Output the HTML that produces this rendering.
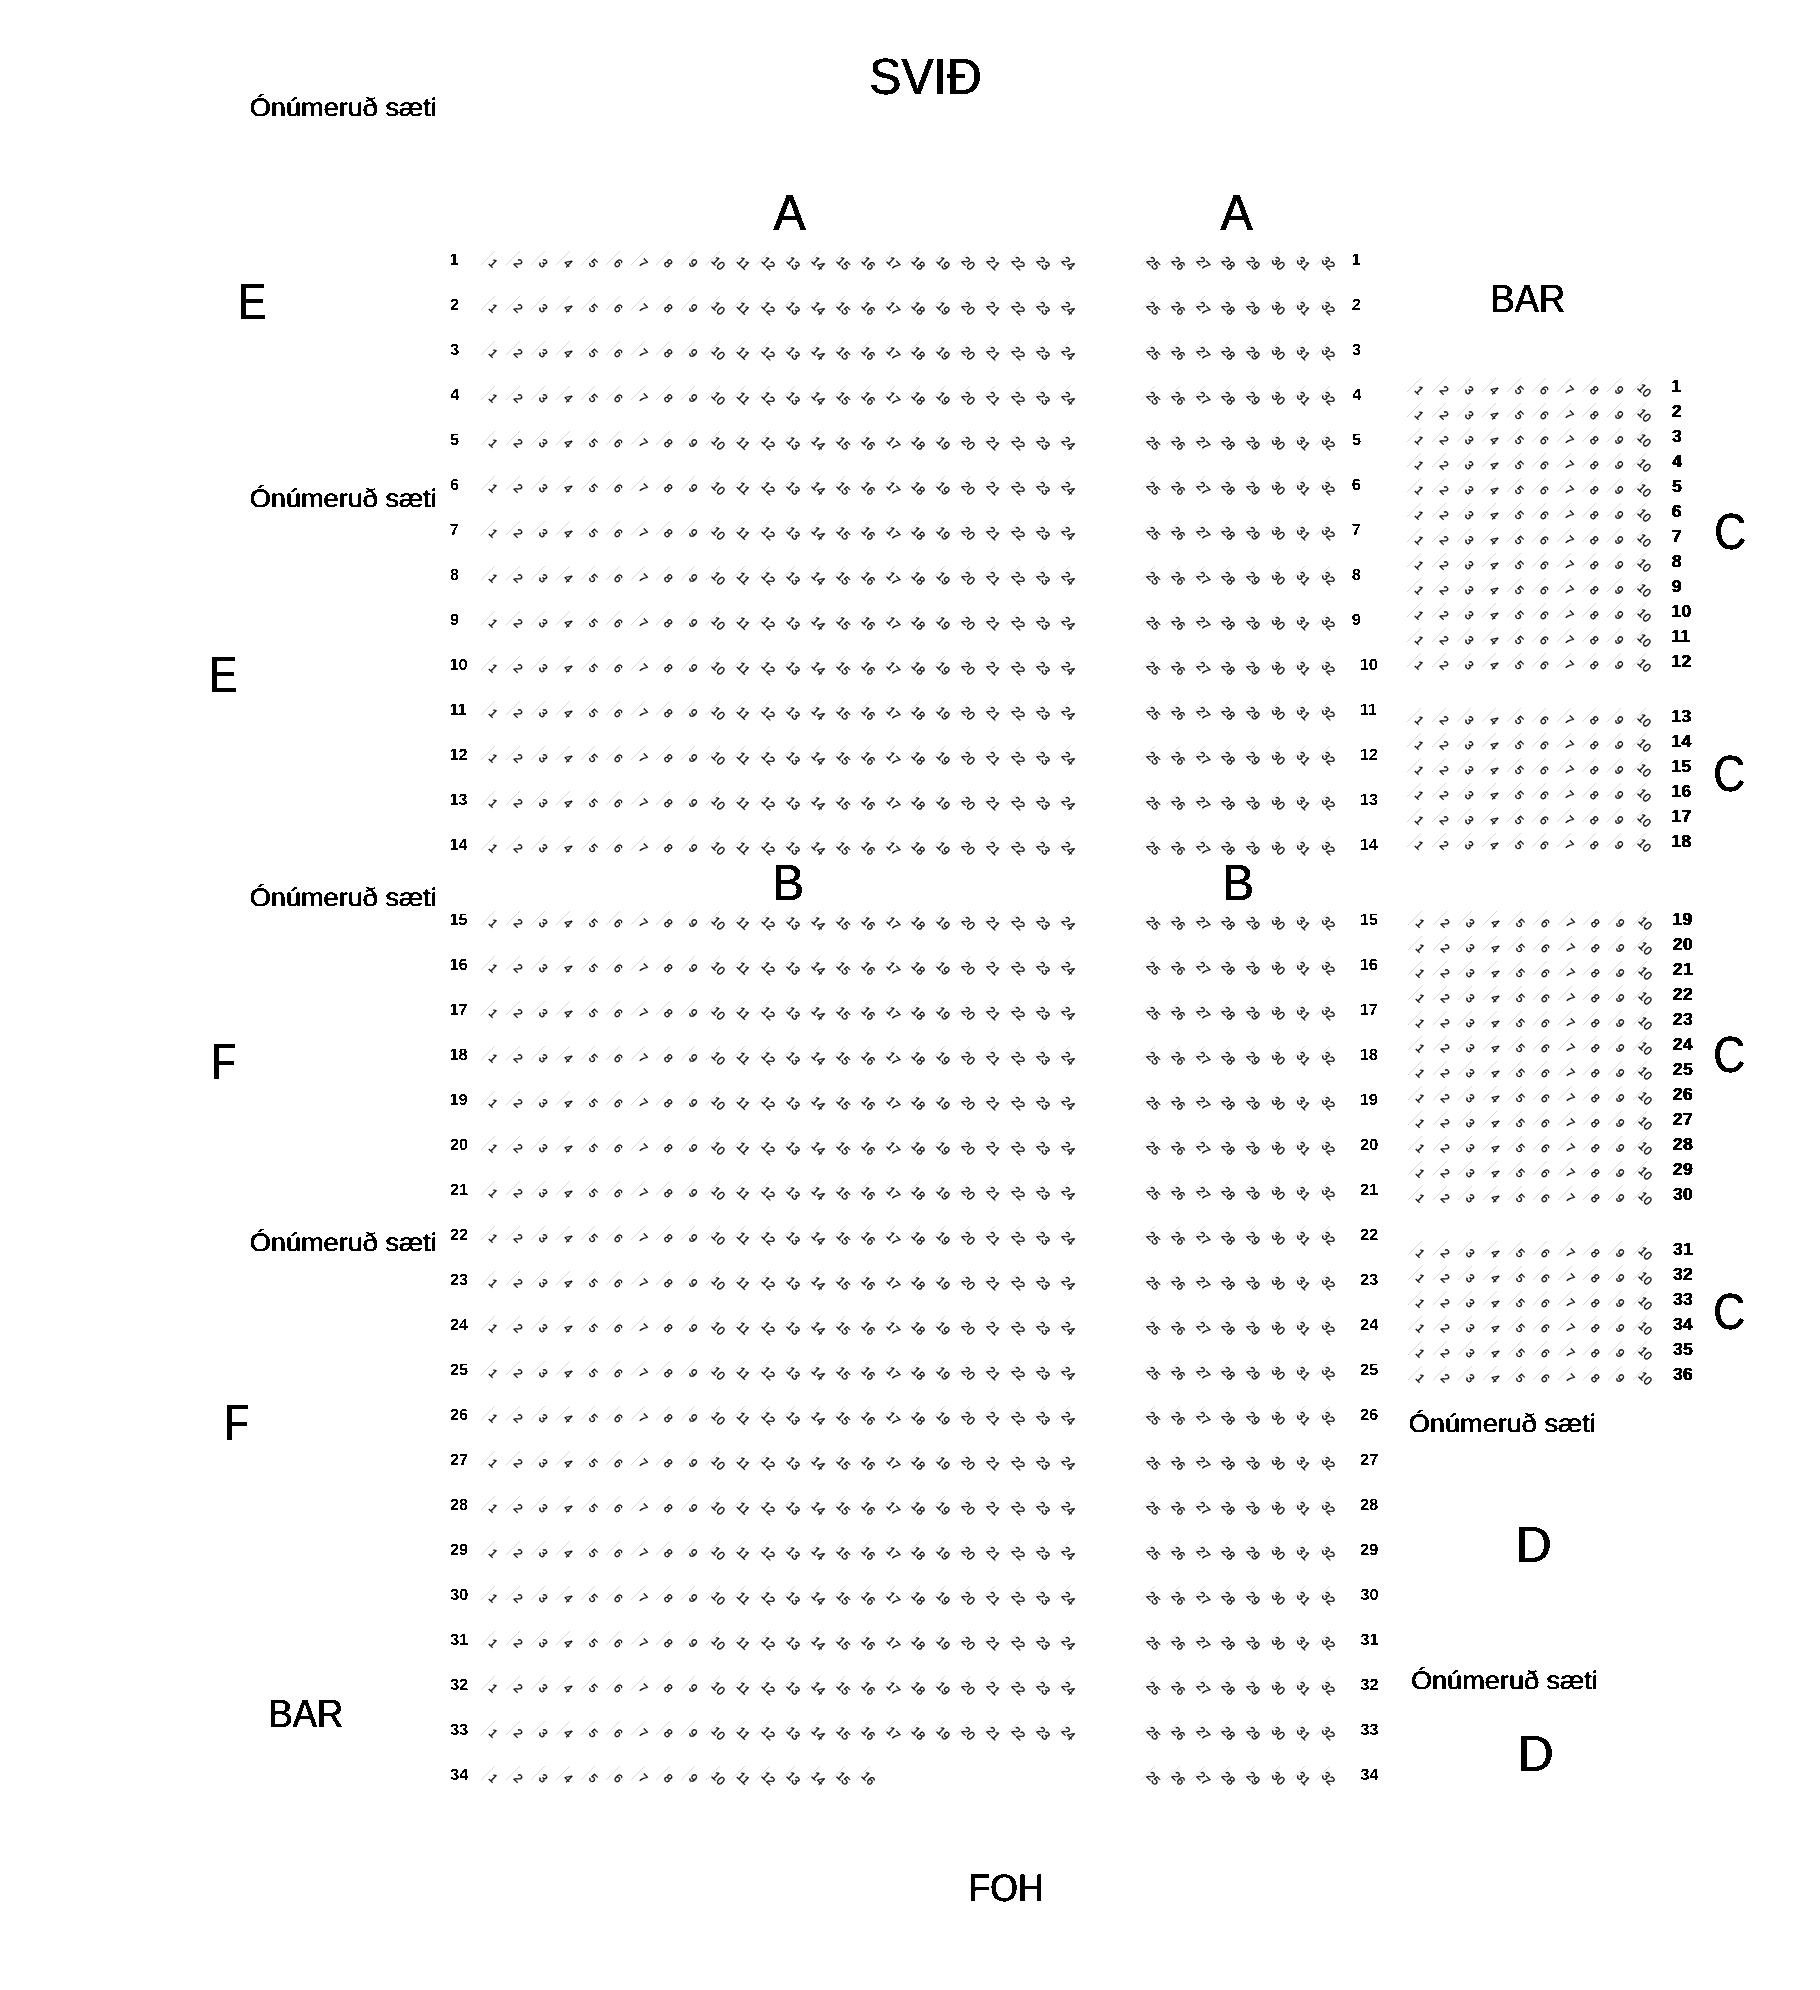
<!DOCTYPE html>
<html lang="is"><head><meta charset="utf-8"><title>Sætaskipan</title>
<style>
html,body{margin:0;padding:0;background:#fff;}
body{width:1820px;height:1990px;position:relative;font-family:"Liberation Sans",sans-serif;}
svg{display:block;position:absolute;left:0;top:0;text-rendering:geometricPrecision;}
text{font-family:"Liberation Sans",sans-serif;fill:#000;}
.t{font-weight:400;}
.r{font-weight:700;font-size:16.3px;}
.c{font-size:17.45px;letter-spacing:0.4px;}
.s text{font-size:12.0px;fill:#0d0d0d;stroke:#0d0d0d;stroke-width:0.35px;text-anchor:middle;}
.s{filter:blur(0.25px);}
.ln{stroke:#c6c6c6;stroke-width:0.7;fill:none;}
</style></head><body>
<svg width="1820" height="1990" viewBox="0 0 1820 1990">
<defs>
<filter id="hb" filterUnits="userSpaceOnUse" x="0" y="0" width="1820" height="1990" color-interpolation-filters="sRGB">
<feOffset in="SourceGraphic" dx="1" dy="0" result="o"/>
<feMerge result="m"><feMergeNode in="o"/><feMergeNode in="SourceGraphic"/></feMerge>
<feComponentTransfer in="m"><feFuncA type="discrete" tableValues="0 1"/></feComponentTransfer>
</filter>
<filter id="th" filterUnits="userSpaceOnUse" x="0" y="0" width="1820" height="1990" color-interpolation-filters="sRGB">
<feComponentTransfer><feFuncA type="discrete" tableValues="0 1"/></feComponentTransfer>
</filter>
</defs>
<g id="labels" filter="url(#hb)">
<text class="t" transform="translate(868.83 94.19) scale(0.9439 1)" font-size="51.02">SVIÐ</text>
<text class="t" transform="translate(249.21 116.15) scale(1.0671 1)" font-size="25.44">Ónúmeruð sæti</text>
<text class="t" transform="translate(249.21 507.05) scale(1.0665 1)" font-size="25.44">Ónúmeruð sæti</text>
<text class="t" transform="translate(249.21 906.35) scale(1.0665 1)" font-size="25.44">Ónúmeruð sæti</text>
<text class="t" transform="translate(249.21 1250.55) scale(1.0665 1)" font-size="25.44">Ónúmeruð sæti</text>
<text class="t" transform="translate(1408.21 1432.25) scale(1.0671 1)" font-size="25.44">Ónúmeruð sæti</text>
<text class="t" transform="translate(1410.46 1689.35) scale(1.0656 1)" font-size="25.44">Ónúmeruð sæti</text>
<text class="t" transform="translate(772.88 230.00) scale(0.9488 1)" font-size="50.91">A</text>
<text class="t" transform="translate(1219.88 230.00) scale(0.9488 1)" font-size="50.91">A</text>
<text class="t" transform="translate(772.10 899.80) scale(0.9349 1)" font-size="50.62">B</text>
<text class="t" transform="translate(1222.10 899.80) scale(0.9349 1)" font-size="50.62">B</text>
<text class="t" transform="translate(237.50 319.00) scale(0.8328 1)" font-size="50.91">E</text>
<text class="t" transform="translate(208.50 692.00) scale(0.8328 1)" font-size="50.91">E</text>
<text class="t" transform="translate(210.62 1079.00) scale(0.8059 1)" font-size="50.91">F</text>
<text class="t" transform="translate(223.62 1440.00) scale(0.8059 1)" font-size="50.91">F</text>
<text class="t" transform="translate(1713.79 549.19) scale(0.8676 1)" font-size="51.02">C</text>
<text class="t" transform="translate(1712.79 791.19) scale(0.8676 1)" font-size="51.02">C</text>
<text class="t" transform="translate(1712.79 1072.19) scale(0.8676 1)" font-size="51.02">C</text>
<text class="t" transform="translate(1712.79 1329.19) scale(0.8676 1)" font-size="51.02">C</text>
<text class="t" transform="translate(1514.82 1562.00) scale(0.9946 1)" font-size="50.91">D</text>
<text class="t" transform="translate(1516.82 1771.00) scale(0.9946 1)" font-size="50.91">D</text>
<text class="t" transform="translate(1490.00 312.00) scale(0.9247 1)" font-size="39.27">BAR</text>
<text class="t" transform="translate(268.00 1727.00) scale(0.9247 1)" font-size="39.27">BAR</text>
<text class="t" transform="translate(968.06 1900.82) scale(0.9254 1)" font-size="38.45">FOH</text>
</g>
<g id="seats" class="s">
<g id="ab1">
<text transform="translate(493.4 263.2) rotate(45)" y="4.13">1</text>
<text transform="translate(518.4 263.2) rotate(45)" y="4.13">2</text>
<text transform="translate(543.4 263.2) rotate(45)" y="4.13">3</text>
<text transform="translate(568.4 263.2) rotate(45)" y="4.13">4</text>
<text transform="translate(593.4 263.2) rotate(45)" y="4.13">5</text>
<text transform="translate(618.4 263.2) rotate(45)" y="4.13">6</text>
<text transform="translate(643.4 263.2) rotate(45)" y="4.13">7</text>
<text transform="translate(668.4 263.2) rotate(45)" y="4.13">8</text>
<text transform="translate(693.4 263.2) rotate(45)" y="4.13">9</text>
<text transform="translate(718.4 263.2) rotate(45)" y="4.13">10</text>
<text transform="translate(743.4 263.2) rotate(45)" y="4.13">11</text>
<text transform="translate(768.4 263.2) rotate(45)" y="4.13">12</text>
<text transform="translate(793.4 263.2) rotate(45)" y="4.13">13</text>
<text transform="translate(818.4 263.2) rotate(45)" y="4.13">14</text>
<text transform="translate(843.4 263.2) rotate(45)" y="4.13">15</text>
<text transform="translate(868.4 263.2) rotate(45)" y="4.13">16</text>
<text transform="translate(893.4 263.2) rotate(45)" y="4.13">17</text>
<text transform="translate(918.4 263.2) rotate(45)" y="4.13">18</text>
<text transform="translate(943.4 263.2) rotate(45)" y="4.13">19</text>
<text transform="translate(968.4 263.2) rotate(45)" y="4.13">20</text>
<text transform="translate(993.4 263.2) rotate(45)" y="4.13">21</text>
<text transform="translate(1018.4 263.2) rotate(45)" y="4.13">22</text>
<text transform="translate(1043.4 263.2) rotate(45)" y="4.13">23</text>
<text transform="translate(1068.4 263.2) rotate(45)" y="4.13">24</text>
<text transform="translate(1153.4 263.2) rotate(45)" y="4.13">25</text>
<text transform="translate(1178.4 263.2) rotate(45)" y="4.13">26</text>
<text transform="translate(1203.4 263.2) rotate(45)" y="4.13">27</text>
<text transform="translate(1228.4 263.2) rotate(45)" y="4.13">28</text>
<text transform="translate(1253.4 263.2) rotate(45)" y="4.13">29</text>
<text transform="translate(1278.4 263.2) rotate(45)" y="4.13">30</text>
<text transform="translate(1303.4 263.2) rotate(45)" y="4.13">31</text>
<text transform="translate(1328.4 263.2) rotate(45)" y="4.13">32</text>
</g>
<g id="ab2">
<text transform="translate(493.4 308.2) rotate(45)" y="4.13">1</text>
<text transform="translate(518.4 308.2) rotate(45)" y="4.13">2</text>
<text transform="translate(543.4 308.2) rotate(45)" y="4.13">3</text>
<text transform="translate(568.4 308.2) rotate(45)" y="4.13">4</text>
<text transform="translate(593.4 308.2) rotate(45)" y="4.13">5</text>
<text transform="translate(618.4 308.2) rotate(45)" y="4.13">6</text>
<text transform="translate(643.4 308.2) rotate(45)" y="4.13">7</text>
<text transform="translate(668.4 308.2) rotate(45)" y="4.13">8</text>
<text transform="translate(693.4 308.2) rotate(45)" y="4.13">9</text>
<text transform="translate(718.4 308.2) rotate(45)" y="4.13">10</text>
<text transform="translate(743.4 308.2) rotate(45)" y="4.13">11</text>
<text transform="translate(768.4 308.2) rotate(45)" y="4.13">12</text>
<text transform="translate(793.4 308.2) rotate(45)" y="4.13">13</text>
<text transform="translate(818.4 308.2) rotate(45)" y="4.13">14</text>
<text transform="translate(843.4 308.2) rotate(45)" y="4.13">15</text>
<text transform="translate(868.4 308.2) rotate(45)" y="4.13">16</text>
<text transform="translate(893.4 308.2) rotate(45)" y="4.13">17</text>
<text transform="translate(918.4 308.2) rotate(45)" y="4.13">18</text>
<text transform="translate(943.4 308.2) rotate(45)" y="4.13">19</text>
<text transform="translate(968.4 308.2) rotate(45)" y="4.13">20</text>
<text transform="translate(993.4 308.2) rotate(45)" y="4.13">21</text>
<text transform="translate(1018.4 308.2) rotate(45)" y="4.13">22</text>
<text transform="translate(1043.4 308.2) rotate(45)" y="4.13">23</text>
<text transform="translate(1068.4 308.2) rotate(45)" y="4.13">24</text>
<text transform="translate(1153.4 308.2) rotate(45)" y="4.13">25</text>
<text transform="translate(1178.4 308.2) rotate(45)" y="4.13">26</text>
<text transform="translate(1203.4 308.2) rotate(45)" y="4.13">27</text>
<text transform="translate(1228.4 308.2) rotate(45)" y="4.13">28</text>
<text transform="translate(1253.4 308.2) rotate(45)" y="4.13">29</text>
<text transform="translate(1278.4 308.2) rotate(45)" y="4.13">30</text>
<text transform="translate(1303.4 308.2) rotate(45)" y="4.13">31</text>
<text transform="translate(1328.4 308.2) rotate(45)" y="4.13">32</text>
</g>
<g id="ab3">
<text transform="translate(493.4 353.2) rotate(45)" y="4.13">1</text>
<text transform="translate(518.4 353.2) rotate(45)" y="4.13">2</text>
<text transform="translate(543.4 353.2) rotate(45)" y="4.13">3</text>
<text transform="translate(568.4 353.2) rotate(45)" y="4.13">4</text>
<text transform="translate(593.4 353.2) rotate(45)" y="4.13">5</text>
<text transform="translate(618.4 353.2) rotate(45)" y="4.13">6</text>
<text transform="translate(643.4 353.2) rotate(45)" y="4.13">7</text>
<text transform="translate(668.4 353.2) rotate(45)" y="4.13">8</text>
<text transform="translate(693.4 353.2) rotate(45)" y="4.13">9</text>
<text transform="translate(718.4 353.2) rotate(45)" y="4.13">10</text>
<text transform="translate(743.4 353.2) rotate(45)" y="4.13">11</text>
<text transform="translate(768.4 353.2) rotate(45)" y="4.13">12</text>
<text transform="translate(793.4 353.2) rotate(45)" y="4.13">13</text>
<text transform="translate(818.4 353.2) rotate(45)" y="4.13">14</text>
<text transform="translate(843.4 353.2) rotate(45)" y="4.13">15</text>
<text transform="translate(868.4 353.2) rotate(45)" y="4.13">16</text>
<text transform="translate(893.4 353.2) rotate(45)" y="4.13">17</text>
<text transform="translate(918.4 353.2) rotate(45)" y="4.13">18</text>
<text transform="translate(943.4 353.2) rotate(45)" y="4.13">19</text>
<text transform="translate(968.4 353.2) rotate(45)" y="4.13">20</text>
<text transform="translate(993.4 353.2) rotate(45)" y="4.13">21</text>
<text transform="translate(1018.4 353.2) rotate(45)" y="4.13">22</text>
<text transform="translate(1043.4 353.2) rotate(45)" y="4.13">23</text>
<text transform="translate(1068.4 353.2) rotate(45)" y="4.13">24</text>
<text transform="translate(1153.4 353.2) rotate(45)" y="4.13">25</text>
<text transform="translate(1178.4 353.2) rotate(45)" y="4.13">26</text>
<text transform="translate(1203.4 353.2) rotate(45)" y="4.13">27</text>
<text transform="translate(1228.4 353.2) rotate(45)" y="4.13">28</text>
<text transform="translate(1253.4 353.2) rotate(45)" y="4.13">29</text>
<text transform="translate(1278.4 353.2) rotate(45)" y="4.13">30</text>
<text transform="translate(1303.4 353.2) rotate(45)" y="4.13">31</text>
<text transform="translate(1328.4 353.2) rotate(45)" y="4.13">32</text>
</g>
<g id="ab4">
<text transform="translate(493.4 398.2) rotate(45)" y="4.13">1</text>
<text transform="translate(518.4 398.2) rotate(45)" y="4.13">2</text>
<text transform="translate(543.4 398.2) rotate(45)" y="4.13">3</text>
<text transform="translate(568.4 398.2) rotate(45)" y="4.13">4</text>
<text transform="translate(593.4 398.2) rotate(45)" y="4.13">5</text>
<text transform="translate(618.4 398.2) rotate(45)" y="4.13">6</text>
<text transform="translate(643.4 398.2) rotate(45)" y="4.13">7</text>
<text transform="translate(668.4 398.2) rotate(45)" y="4.13">8</text>
<text transform="translate(693.4 398.2) rotate(45)" y="4.13">9</text>
<text transform="translate(718.4 398.2) rotate(45)" y="4.13">10</text>
<text transform="translate(743.4 398.2) rotate(45)" y="4.13">11</text>
<text transform="translate(768.4 398.2) rotate(45)" y="4.13">12</text>
<text transform="translate(793.4 398.2) rotate(45)" y="4.13">13</text>
<text transform="translate(818.4 398.2) rotate(45)" y="4.13">14</text>
<text transform="translate(843.4 398.2) rotate(45)" y="4.13">15</text>
<text transform="translate(868.4 398.2) rotate(45)" y="4.13">16</text>
<text transform="translate(893.4 398.2) rotate(45)" y="4.13">17</text>
<text transform="translate(918.4 398.2) rotate(45)" y="4.13">18</text>
<text transform="translate(943.4 398.2) rotate(45)" y="4.13">19</text>
<text transform="translate(968.4 398.2) rotate(45)" y="4.13">20</text>
<text transform="translate(993.4 398.2) rotate(45)" y="4.13">21</text>
<text transform="translate(1018.4 398.2) rotate(45)" y="4.13">22</text>
<text transform="translate(1043.4 398.2) rotate(45)" y="4.13">23</text>
<text transform="translate(1068.4 398.2) rotate(45)" y="4.13">24</text>
<text transform="translate(1153.4 398.2) rotate(45)" y="4.13">25</text>
<text transform="translate(1178.4 398.2) rotate(45)" y="4.13">26</text>
<text transform="translate(1203.4 398.2) rotate(45)" y="4.13">27</text>
<text transform="translate(1228.4 398.2) rotate(45)" y="4.13">28</text>
<text transform="translate(1253.4 398.2) rotate(45)" y="4.13">29</text>
<text transform="translate(1278.4 398.2) rotate(45)" y="4.13">30</text>
<text transform="translate(1303.4 398.2) rotate(45)" y="4.13">31</text>
<text transform="translate(1328.4 398.2) rotate(45)" y="4.13">32</text>
</g>
<g id="ab5">
<text transform="translate(493.4 443.2) rotate(45)" y="4.13">1</text>
<text transform="translate(518.4 443.2) rotate(45)" y="4.13">2</text>
<text transform="translate(543.4 443.2) rotate(45)" y="4.13">3</text>
<text transform="translate(568.4 443.2) rotate(45)" y="4.13">4</text>
<text transform="translate(593.4 443.2) rotate(45)" y="4.13">5</text>
<text transform="translate(618.4 443.2) rotate(45)" y="4.13">6</text>
<text transform="translate(643.4 443.2) rotate(45)" y="4.13">7</text>
<text transform="translate(668.4 443.2) rotate(45)" y="4.13">8</text>
<text transform="translate(693.4 443.2) rotate(45)" y="4.13">9</text>
<text transform="translate(718.4 443.2) rotate(45)" y="4.13">10</text>
<text transform="translate(743.4 443.2) rotate(45)" y="4.13">11</text>
<text transform="translate(768.4 443.2) rotate(45)" y="4.13">12</text>
<text transform="translate(793.4 443.2) rotate(45)" y="4.13">13</text>
<text transform="translate(818.4 443.2) rotate(45)" y="4.13">14</text>
<text transform="translate(843.4 443.2) rotate(45)" y="4.13">15</text>
<text transform="translate(868.4 443.2) rotate(45)" y="4.13">16</text>
<text transform="translate(893.4 443.2) rotate(45)" y="4.13">17</text>
<text transform="translate(918.4 443.2) rotate(45)" y="4.13">18</text>
<text transform="translate(943.4 443.2) rotate(45)" y="4.13">19</text>
<text transform="translate(968.4 443.2) rotate(45)" y="4.13">20</text>
<text transform="translate(993.4 443.2) rotate(45)" y="4.13">21</text>
<text transform="translate(1018.4 443.2) rotate(45)" y="4.13">22</text>
<text transform="translate(1043.4 443.2) rotate(45)" y="4.13">23</text>
<text transform="translate(1068.4 443.2) rotate(45)" y="4.13">24</text>
<text transform="translate(1153.4 443.2) rotate(45)" y="4.13">25</text>
<text transform="translate(1178.4 443.2) rotate(45)" y="4.13">26</text>
<text transform="translate(1203.4 443.2) rotate(45)" y="4.13">27</text>
<text transform="translate(1228.4 443.2) rotate(45)" y="4.13">28</text>
<text transform="translate(1253.4 443.2) rotate(45)" y="4.13">29</text>
<text transform="translate(1278.4 443.2) rotate(45)" y="4.13">30</text>
<text transform="translate(1303.4 443.2) rotate(45)" y="4.13">31</text>
<text transform="translate(1328.4 443.2) rotate(45)" y="4.13">32</text>
</g>
<g id="ab6">
<text transform="translate(493.4 488.2) rotate(45)" y="4.13">1</text>
<text transform="translate(518.4 488.2) rotate(45)" y="4.13">2</text>
<text transform="translate(543.4 488.2) rotate(45)" y="4.13">3</text>
<text transform="translate(568.4 488.2) rotate(45)" y="4.13">4</text>
<text transform="translate(593.4 488.2) rotate(45)" y="4.13">5</text>
<text transform="translate(618.4 488.2) rotate(45)" y="4.13">6</text>
<text transform="translate(643.4 488.2) rotate(45)" y="4.13">7</text>
<text transform="translate(668.4 488.2) rotate(45)" y="4.13">8</text>
<text transform="translate(693.4 488.2) rotate(45)" y="4.13">9</text>
<text transform="translate(718.4 488.2) rotate(45)" y="4.13">10</text>
<text transform="translate(743.4 488.2) rotate(45)" y="4.13">11</text>
<text transform="translate(768.4 488.2) rotate(45)" y="4.13">12</text>
<text transform="translate(793.4 488.2) rotate(45)" y="4.13">13</text>
<text transform="translate(818.4 488.2) rotate(45)" y="4.13">14</text>
<text transform="translate(843.4 488.2) rotate(45)" y="4.13">15</text>
<text transform="translate(868.4 488.2) rotate(45)" y="4.13">16</text>
<text transform="translate(893.4 488.2) rotate(45)" y="4.13">17</text>
<text transform="translate(918.4 488.2) rotate(45)" y="4.13">18</text>
<text transform="translate(943.4 488.2) rotate(45)" y="4.13">19</text>
<text transform="translate(968.4 488.2) rotate(45)" y="4.13">20</text>
<text transform="translate(993.4 488.2) rotate(45)" y="4.13">21</text>
<text transform="translate(1018.4 488.2) rotate(45)" y="4.13">22</text>
<text transform="translate(1043.4 488.2) rotate(45)" y="4.13">23</text>
<text transform="translate(1068.4 488.2) rotate(45)" y="4.13">24</text>
<text transform="translate(1153.4 488.2) rotate(45)" y="4.13">25</text>
<text transform="translate(1178.4 488.2) rotate(45)" y="4.13">26</text>
<text transform="translate(1203.4 488.2) rotate(45)" y="4.13">27</text>
<text transform="translate(1228.4 488.2) rotate(45)" y="4.13">28</text>
<text transform="translate(1253.4 488.2) rotate(45)" y="4.13">29</text>
<text transform="translate(1278.4 488.2) rotate(45)" y="4.13">30</text>
<text transform="translate(1303.4 488.2) rotate(45)" y="4.13">31</text>
<text transform="translate(1328.4 488.2) rotate(45)" y="4.13">32</text>
</g>
<g id="ab7">
<text transform="translate(493.4 533.2) rotate(45)" y="4.13">1</text>
<text transform="translate(518.4 533.2) rotate(45)" y="4.13">2</text>
<text transform="translate(543.4 533.2) rotate(45)" y="4.13">3</text>
<text transform="translate(568.4 533.2) rotate(45)" y="4.13">4</text>
<text transform="translate(593.4 533.2) rotate(45)" y="4.13">5</text>
<text transform="translate(618.4 533.2) rotate(45)" y="4.13">6</text>
<text transform="translate(643.4 533.2) rotate(45)" y="4.13">7</text>
<text transform="translate(668.4 533.2) rotate(45)" y="4.13">8</text>
<text transform="translate(693.4 533.2) rotate(45)" y="4.13">9</text>
<text transform="translate(718.4 533.2) rotate(45)" y="4.13">10</text>
<text transform="translate(743.4 533.2) rotate(45)" y="4.13">11</text>
<text transform="translate(768.4 533.2) rotate(45)" y="4.13">12</text>
<text transform="translate(793.4 533.2) rotate(45)" y="4.13">13</text>
<text transform="translate(818.4 533.2) rotate(45)" y="4.13">14</text>
<text transform="translate(843.4 533.2) rotate(45)" y="4.13">15</text>
<text transform="translate(868.4 533.2) rotate(45)" y="4.13">16</text>
<text transform="translate(893.4 533.2) rotate(45)" y="4.13">17</text>
<text transform="translate(918.4 533.2) rotate(45)" y="4.13">18</text>
<text transform="translate(943.4 533.2) rotate(45)" y="4.13">19</text>
<text transform="translate(968.4 533.2) rotate(45)" y="4.13">20</text>
<text transform="translate(993.4 533.2) rotate(45)" y="4.13">21</text>
<text transform="translate(1018.4 533.2) rotate(45)" y="4.13">22</text>
<text transform="translate(1043.4 533.2) rotate(45)" y="4.13">23</text>
<text transform="translate(1068.4 533.2) rotate(45)" y="4.13">24</text>
<text transform="translate(1153.4 533.2) rotate(45)" y="4.13">25</text>
<text transform="translate(1178.4 533.2) rotate(45)" y="4.13">26</text>
<text transform="translate(1203.4 533.2) rotate(45)" y="4.13">27</text>
<text transform="translate(1228.4 533.2) rotate(45)" y="4.13">28</text>
<text transform="translate(1253.4 533.2) rotate(45)" y="4.13">29</text>
<text transform="translate(1278.4 533.2) rotate(45)" y="4.13">30</text>
<text transform="translate(1303.4 533.2) rotate(45)" y="4.13">31</text>
<text transform="translate(1328.4 533.2) rotate(45)" y="4.13">32</text>
</g>
<g id="ab8">
<text transform="translate(493.4 578.2) rotate(45)" y="4.13">1</text>
<text transform="translate(518.4 578.2) rotate(45)" y="4.13">2</text>
<text transform="translate(543.4 578.2) rotate(45)" y="4.13">3</text>
<text transform="translate(568.4 578.2) rotate(45)" y="4.13">4</text>
<text transform="translate(593.4 578.2) rotate(45)" y="4.13">5</text>
<text transform="translate(618.4 578.2) rotate(45)" y="4.13">6</text>
<text transform="translate(643.4 578.2) rotate(45)" y="4.13">7</text>
<text transform="translate(668.4 578.2) rotate(45)" y="4.13">8</text>
<text transform="translate(693.4 578.2) rotate(45)" y="4.13">9</text>
<text transform="translate(718.4 578.2) rotate(45)" y="4.13">10</text>
<text transform="translate(743.4 578.2) rotate(45)" y="4.13">11</text>
<text transform="translate(768.4 578.2) rotate(45)" y="4.13">12</text>
<text transform="translate(793.4 578.2) rotate(45)" y="4.13">13</text>
<text transform="translate(818.4 578.2) rotate(45)" y="4.13">14</text>
<text transform="translate(843.4 578.2) rotate(45)" y="4.13">15</text>
<text transform="translate(868.4 578.2) rotate(45)" y="4.13">16</text>
<text transform="translate(893.4 578.2) rotate(45)" y="4.13">17</text>
<text transform="translate(918.4 578.2) rotate(45)" y="4.13">18</text>
<text transform="translate(943.4 578.2) rotate(45)" y="4.13">19</text>
<text transform="translate(968.4 578.2) rotate(45)" y="4.13">20</text>
<text transform="translate(993.4 578.2) rotate(45)" y="4.13">21</text>
<text transform="translate(1018.4 578.2) rotate(45)" y="4.13">22</text>
<text transform="translate(1043.4 578.2) rotate(45)" y="4.13">23</text>
<text transform="translate(1068.4 578.2) rotate(45)" y="4.13">24</text>
<text transform="translate(1153.4 578.2) rotate(45)" y="4.13">25</text>
<text transform="translate(1178.4 578.2) rotate(45)" y="4.13">26</text>
<text transform="translate(1203.4 578.2) rotate(45)" y="4.13">27</text>
<text transform="translate(1228.4 578.2) rotate(45)" y="4.13">28</text>
<text transform="translate(1253.4 578.2) rotate(45)" y="4.13">29</text>
<text transform="translate(1278.4 578.2) rotate(45)" y="4.13">30</text>
<text transform="translate(1303.4 578.2) rotate(45)" y="4.13">31</text>
<text transform="translate(1328.4 578.2) rotate(45)" y="4.13">32</text>
</g>
<g id="ab9">
<text transform="translate(493.4 623.2) rotate(45)" y="4.13">1</text>
<text transform="translate(518.4 623.2) rotate(45)" y="4.13">2</text>
<text transform="translate(543.4 623.2) rotate(45)" y="4.13">3</text>
<text transform="translate(568.4 623.2) rotate(45)" y="4.13">4</text>
<text transform="translate(593.4 623.2) rotate(45)" y="4.13">5</text>
<text transform="translate(618.4 623.2) rotate(45)" y="4.13">6</text>
<text transform="translate(643.4 623.2) rotate(45)" y="4.13">7</text>
<text transform="translate(668.4 623.2) rotate(45)" y="4.13">8</text>
<text transform="translate(693.4 623.2) rotate(45)" y="4.13">9</text>
<text transform="translate(718.4 623.2) rotate(45)" y="4.13">10</text>
<text transform="translate(743.4 623.2) rotate(45)" y="4.13">11</text>
<text transform="translate(768.4 623.2) rotate(45)" y="4.13">12</text>
<text transform="translate(793.4 623.2) rotate(45)" y="4.13">13</text>
<text transform="translate(818.4 623.2) rotate(45)" y="4.13">14</text>
<text transform="translate(843.4 623.2) rotate(45)" y="4.13">15</text>
<text transform="translate(868.4 623.2) rotate(45)" y="4.13">16</text>
<text transform="translate(893.4 623.2) rotate(45)" y="4.13">17</text>
<text transform="translate(918.4 623.2) rotate(45)" y="4.13">18</text>
<text transform="translate(943.4 623.2) rotate(45)" y="4.13">19</text>
<text transform="translate(968.4 623.2) rotate(45)" y="4.13">20</text>
<text transform="translate(993.4 623.2) rotate(45)" y="4.13">21</text>
<text transform="translate(1018.4 623.2) rotate(45)" y="4.13">22</text>
<text transform="translate(1043.4 623.2) rotate(45)" y="4.13">23</text>
<text transform="translate(1068.4 623.2) rotate(45)" y="4.13">24</text>
<text transform="translate(1153.4 623.2) rotate(45)" y="4.13">25</text>
<text transform="translate(1178.4 623.2) rotate(45)" y="4.13">26</text>
<text transform="translate(1203.4 623.2) rotate(45)" y="4.13">27</text>
<text transform="translate(1228.4 623.2) rotate(45)" y="4.13">28</text>
<text transform="translate(1253.4 623.2) rotate(45)" y="4.13">29</text>
<text transform="translate(1278.4 623.2) rotate(45)" y="4.13">30</text>
<text transform="translate(1303.4 623.2) rotate(45)" y="4.13">31</text>
<text transform="translate(1328.4 623.2) rotate(45)" y="4.13">32</text>
</g>
<g id="ab10">
<text transform="translate(493.4 668.2) rotate(45)" y="4.13">1</text>
<text transform="translate(518.4 668.2) rotate(45)" y="4.13">2</text>
<text transform="translate(543.4 668.2) rotate(45)" y="4.13">3</text>
<text transform="translate(568.4 668.2) rotate(45)" y="4.13">4</text>
<text transform="translate(593.4 668.2) rotate(45)" y="4.13">5</text>
<text transform="translate(618.4 668.2) rotate(45)" y="4.13">6</text>
<text transform="translate(643.4 668.2) rotate(45)" y="4.13">7</text>
<text transform="translate(668.4 668.2) rotate(45)" y="4.13">8</text>
<text transform="translate(693.4 668.2) rotate(45)" y="4.13">9</text>
<text transform="translate(718.4 668.2) rotate(45)" y="4.13">10</text>
<text transform="translate(743.4 668.2) rotate(45)" y="4.13">11</text>
<text transform="translate(768.4 668.2) rotate(45)" y="4.13">12</text>
<text transform="translate(793.4 668.2) rotate(45)" y="4.13">13</text>
<text transform="translate(818.4 668.2) rotate(45)" y="4.13">14</text>
<text transform="translate(843.4 668.2) rotate(45)" y="4.13">15</text>
<text transform="translate(868.4 668.2) rotate(45)" y="4.13">16</text>
<text transform="translate(893.4 668.2) rotate(45)" y="4.13">17</text>
<text transform="translate(918.4 668.2) rotate(45)" y="4.13">18</text>
<text transform="translate(943.4 668.2) rotate(45)" y="4.13">19</text>
<text transform="translate(968.4 668.2) rotate(45)" y="4.13">20</text>
<text transform="translate(993.4 668.2) rotate(45)" y="4.13">21</text>
<text transform="translate(1018.4 668.2) rotate(45)" y="4.13">22</text>
<text transform="translate(1043.4 668.2) rotate(45)" y="4.13">23</text>
<text transform="translate(1068.4 668.2) rotate(45)" y="4.13">24</text>
<text transform="translate(1153.4 668.2) rotate(45)" y="4.13">25</text>
<text transform="translate(1178.4 668.2) rotate(45)" y="4.13">26</text>
<text transform="translate(1203.4 668.2) rotate(45)" y="4.13">27</text>
<text transform="translate(1228.4 668.2) rotate(45)" y="4.13">28</text>
<text transform="translate(1253.4 668.2) rotate(45)" y="4.13">29</text>
<text transform="translate(1278.4 668.2) rotate(45)" y="4.13">30</text>
<text transform="translate(1303.4 668.2) rotate(45)" y="4.13">31</text>
<text transform="translate(1328.4 668.2) rotate(45)" y="4.13">32</text>
</g>
<g id="ab11">
<text transform="translate(493.4 713.2) rotate(45)" y="4.13">1</text>
<text transform="translate(518.4 713.2) rotate(45)" y="4.13">2</text>
<text transform="translate(543.4 713.2) rotate(45)" y="4.13">3</text>
<text transform="translate(568.4 713.2) rotate(45)" y="4.13">4</text>
<text transform="translate(593.4 713.2) rotate(45)" y="4.13">5</text>
<text transform="translate(618.4 713.2) rotate(45)" y="4.13">6</text>
<text transform="translate(643.4 713.2) rotate(45)" y="4.13">7</text>
<text transform="translate(668.4 713.2) rotate(45)" y="4.13">8</text>
<text transform="translate(693.4 713.2) rotate(45)" y="4.13">9</text>
<text transform="translate(718.4 713.2) rotate(45)" y="4.13">10</text>
<text transform="translate(743.4 713.2) rotate(45)" y="4.13">11</text>
<text transform="translate(768.4 713.2) rotate(45)" y="4.13">12</text>
<text transform="translate(793.4 713.2) rotate(45)" y="4.13">13</text>
<text transform="translate(818.4 713.2) rotate(45)" y="4.13">14</text>
<text transform="translate(843.4 713.2) rotate(45)" y="4.13">15</text>
<text transform="translate(868.4 713.2) rotate(45)" y="4.13">16</text>
<text transform="translate(893.4 713.2) rotate(45)" y="4.13">17</text>
<text transform="translate(918.4 713.2) rotate(45)" y="4.13">18</text>
<text transform="translate(943.4 713.2) rotate(45)" y="4.13">19</text>
<text transform="translate(968.4 713.2) rotate(45)" y="4.13">20</text>
<text transform="translate(993.4 713.2) rotate(45)" y="4.13">21</text>
<text transform="translate(1018.4 713.2) rotate(45)" y="4.13">22</text>
<text transform="translate(1043.4 713.2) rotate(45)" y="4.13">23</text>
<text transform="translate(1068.4 713.2) rotate(45)" y="4.13">24</text>
<text transform="translate(1153.4 713.2) rotate(45)" y="4.13">25</text>
<text transform="translate(1178.4 713.2) rotate(45)" y="4.13">26</text>
<text transform="translate(1203.4 713.2) rotate(45)" y="4.13">27</text>
<text transform="translate(1228.4 713.2) rotate(45)" y="4.13">28</text>
<text transform="translate(1253.4 713.2) rotate(45)" y="4.13">29</text>
<text transform="translate(1278.4 713.2) rotate(45)" y="4.13">30</text>
<text transform="translate(1303.4 713.2) rotate(45)" y="4.13">31</text>
<text transform="translate(1328.4 713.2) rotate(45)" y="4.13">32</text>
</g>
<g id="ab12">
<text transform="translate(493.4 758.2) rotate(45)" y="4.13">1</text>
<text transform="translate(518.4 758.2) rotate(45)" y="4.13">2</text>
<text transform="translate(543.4 758.2) rotate(45)" y="4.13">3</text>
<text transform="translate(568.4 758.2) rotate(45)" y="4.13">4</text>
<text transform="translate(593.4 758.2) rotate(45)" y="4.13">5</text>
<text transform="translate(618.4 758.2) rotate(45)" y="4.13">6</text>
<text transform="translate(643.4 758.2) rotate(45)" y="4.13">7</text>
<text transform="translate(668.4 758.2) rotate(45)" y="4.13">8</text>
<text transform="translate(693.4 758.2) rotate(45)" y="4.13">9</text>
<text transform="translate(718.4 758.2) rotate(45)" y="4.13">10</text>
<text transform="translate(743.4 758.2) rotate(45)" y="4.13">11</text>
<text transform="translate(768.4 758.2) rotate(45)" y="4.13">12</text>
<text transform="translate(793.4 758.2) rotate(45)" y="4.13">13</text>
<text transform="translate(818.4 758.2) rotate(45)" y="4.13">14</text>
<text transform="translate(843.4 758.2) rotate(45)" y="4.13">15</text>
<text transform="translate(868.4 758.2) rotate(45)" y="4.13">16</text>
<text transform="translate(893.4 758.2) rotate(45)" y="4.13">17</text>
<text transform="translate(918.4 758.2) rotate(45)" y="4.13">18</text>
<text transform="translate(943.4 758.2) rotate(45)" y="4.13">19</text>
<text transform="translate(968.4 758.2) rotate(45)" y="4.13">20</text>
<text transform="translate(993.4 758.2) rotate(45)" y="4.13">21</text>
<text transform="translate(1018.4 758.2) rotate(45)" y="4.13">22</text>
<text transform="translate(1043.4 758.2) rotate(45)" y="4.13">23</text>
<text transform="translate(1068.4 758.2) rotate(45)" y="4.13">24</text>
<text transform="translate(1153.4 758.2) rotate(45)" y="4.13">25</text>
<text transform="translate(1178.4 758.2) rotate(45)" y="4.13">26</text>
<text transform="translate(1203.4 758.2) rotate(45)" y="4.13">27</text>
<text transform="translate(1228.4 758.2) rotate(45)" y="4.13">28</text>
<text transform="translate(1253.4 758.2) rotate(45)" y="4.13">29</text>
<text transform="translate(1278.4 758.2) rotate(45)" y="4.13">30</text>
<text transform="translate(1303.4 758.2) rotate(45)" y="4.13">31</text>
<text transform="translate(1328.4 758.2) rotate(45)" y="4.13">32</text>
</g>
<g id="ab13">
<text transform="translate(493.4 803.2) rotate(45)" y="4.13">1</text>
<text transform="translate(518.4 803.2) rotate(45)" y="4.13">2</text>
<text transform="translate(543.4 803.2) rotate(45)" y="4.13">3</text>
<text transform="translate(568.4 803.2) rotate(45)" y="4.13">4</text>
<text transform="translate(593.4 803.2) rotate(45)" y="4.13">5</text>
<text transform="translate(618.4 803.2) rotate(45)" y="4.13">6</text>
<text transform="translate(643.4 803.2) rotate(45)" y="4.13">7</text>
<text transform="translate(668.4 803.2) rotate(45)" y="4.13">8</text>
<text transform="translate(693.4 803.2) rotate(45)" y="4.13">9</text>
<text transform="translate(718.4 803.2) rotate(45)" y="4.13">10</text>
<text transform="translate(743.4 803.2) rotate(45)" y="4.13">11</text>
<text transform="translate(768.4 803.2) rotate(45)" y="4.13">12</text>
<text transform="translate(793.4 803.2) rotate(45)" y="4.13">13</text>
<text transform="translate(818.4 803.2) rotate(45)" y="4.13">14</text>
<text transform="translate(843.4 803.2) rotate(45)" y="4.13">15</text>
<text transform="translate(868.4 803.2) rotate(45)" y="4.13">16</text>
<text transform="translate(893.4 803.2) rotate(45)" y="4.13">17</text>
<text transform="translate(918.4 803.2) rotate(45)" y="4.13">18</text>
<text transform="translate(943.4 803.2) rotate(45)" y="4.13">19</text>
<text transform="translate(968.4 803.2) rotate(45)" y="4.13">20</text>
<text transform="translate(993.4 803.2) rotate(45)" y="4.13">21</text>
<text transform="translate(1018.4 803.2) rotate(45)" y="4.13">22</text>
<text transform="translate(1043.4 803.2) rotate(45)" y="4.13">23</text>
<text transform="translate(1068.4 803.2) rotate(45)" y="4.13">24</text>
<text transform="translate(1153.4 803.2) rotate(45)" y="4.13">25</text>
<text transform="translate(1178.4 803.2) rotate(45)" y="4.13">26</text>
<text transform="translate(1203.4 803.2) rotate(45)" y="4.13">27</text>
<text transform="translate(1228.4 803.2) rotate(45)" y="4.13">28</text>
<text transform="translate(1253.4 803.2) rotate(45)" y="4.13">29</text>
<text transform="translate(1278.4 803.2) rotate(45)" y="4.13">30</text>
<text transform="translate(1303.4 803.2) rotate(45)" y="4.13">31</text>
<text transform="translate(1328.4 803.2) rotate(45)" y="4.13">32</text>
</g>
<g id="ab14">
<text transform="translate(493.4 848.2) rotate(45)" y="4.13">1</text>
<text transform="translate(518.4 848.2) rotate(45)" y="4.13">2</text>
<text transform="translate(543.4 848.2) rotate(45)" y="4.13">3</text>
<text transform="translate(568.4 848.2) rotate(45)" y="4.13">4</text>
<text transform="translate(593.4 848.2) rotate(45)" y="4.13">5</text>
<text transform="translate(618.4 848.2) rotate(45)" y="4.13">6</text>
<text transform="translate(643.4 848.2) rotate(45)" y="4.13">7</text>
<text transform="translate(668.4 848.2) rotate(45)" y="4.13">8</text>
<text transform="translate(693.4 848.2) rotate(45)" y="4.13">9</text>
<text transform="translate(718.4 848.2) rotate(45)" y="4.13">10</text>
<text transform="translate(743.4 848.2) rotate(45)" y="4.13">11</text>
<text transform="translate(768.4 848.2) rotate(45)" y="4.13">12</text>
<text transform="translate(793.4 848.2) rotate(45)" y="4.13">13</text>
<text transform="translate(818.4 848.2) rotate(45)" y="4.13">14</text>
<text transform="translate(843.4 848.2) rotate(45)" y="4.13">15</text>
<text transform="translate(868.4 848.2) rotate(45)" y="4.13">16</text>
<text transform="translate(893.4 848.2) rotate(45)" y="4.13">17</text>
<text transform="translate(918.4 848.2) rotate(45)" y="4.13">18</text>
<text transform="translate(943.4 848.2) rotate(45)" y="4.13">19</text>
<text transform="translate(968.4 848.2) rotate(45)" y="4.13">20</text>
<text transform="translate(993.4 848.2) rotate(45)" y="4.13">21</text>
<text transform="translate(1018.4 848.2) rotate(45)" y="4.13">22</text>
<text transform="translate(1043.4 848.2) rotate(45)" y="4.13">23</text>
<text transform="translate(1068.4 848.2) rotate(45)" y="4.13">24</text>
<text transform="translate(1153.4 848.2) rotate(45)" y="4.13">25</text>
<text transform="translate(1178.4 848.2) rotate(45)" y="4.13">26</text>
<text transform="translate(1203.4 848.2) rotate(45)" y="4.13">27</text>
<text transform="translate(1228.4 848.2) rotate(45)" y="4.13">28</text>
<text transform="translate(1253.4 848.2) rotate(45)" y="4.13">29</text>
<text transform="translate(1278.4 848.2) rotate(45)" y="4.13">30</text>
<text transform="translate(1303.4 848.2) rotate(45)" y="4.13">31</text>
<text transform="translate(1328.4 848.2) rotate(45)" y="4.13">32</text>
</g>
<g id="ab15">
<text transform="translate(493.4 923.2) rotate(45)" y="4.13">1</text>
<text transform="translate(518.4 923.2) rotate(45)" y="4.13">2</text>
<text transform="translate(543.4 923.2) rotate(45)" y="4.13">3</text>
<text transform="translate(568.4 923.2) rotate(45)" y="4.13">4</text>
<text transform="translate(593.4 923.2) rotate(45)" y="4.13">5</text>
<text transform="translate(618.4 923.2) rotate(45)" y="4.13">6</text>
<text transform="translate(643.4 923.2) rotate(45)" y="4.13">7</text>
<text transform="translate(668.4 923.2) rotate(45)" y="4.13">8</text>
<text transform="translate(693.4 923.2) rotate(45)" y="4.13">9</text>
<text transform="translate(718.4 923.2) rotate(45)" y="4.13">10</text>
<text transform="translate(743.4 923.2) rotate(45)" y="4.13">11</text>
<text transform="translate(768.4 923.2) rotate(45)" y="4.13">12</text>
<text transform="translate(793.4 923.2) rotate(45)" y="4.13">13</text>
<text transform="translate(818.4 923.2) rotate(45)" y="4.13">14</text>
<text transform="translate(843.4 923.2) rotate(45)" y="4.13">15</text>
<text transform="translate(868.4 923.2) rotate(45)" y="4.13">16</text>
<text transform="translate(893.4 923.2) rotate(45)" y="4.13">17</text>
<text transform="translate(918.4 923.2) rotate(45)" y="4.13">18</text>
<text transform="translate(943.4 923.2) rotate(45)" y="4.13">19</text>
<text transform="translate(968.4 923.2) rotate(45)" y="4.13">20</text>
<text transform="translate(993.4 923.2) rotate(45)" y="4.13">21</text>
<text transform="translate(1018.4 923.2) rotate(45)" y="4.13">22</text>
<text transform="translate(1043.4 923.2) rotate(45)" y="4.13">23</text>
<text transform="translate(1068.4 923.2) rotate(45)" y="4.13">24</text>
<text transform="translate(1153.4 923.2) rotate(45)" y="4.13">25</text>
<text transform="translate(1178.4 923.2) rotate(45)" y="4.13">26</text>
<text transform="translate(1203.4 923.2) rotate(45)" y="4.13">27</text>
<text transform="translate(1228.4 923.2) rotate(45)" y="4.13">28</text>
<text transform="translate(1253.4 923.2) rotate(45)" y="4.13">29</text>
<text transform="translate(1278.4 923.2) rotate(45)" y="4.13">30</text>
<text transform="translate(1303.4 923.2) rotate(45)" y="4.13">31</text>
<text transform="translate(1328.4 923.2) rotate(45)" y="4.13">32</text>
</g>
<g id="ab16">
<text transform="translate(493.4 968.2) rotate(45)" y="4.13">1</text>
<text transform="translate(518.4 968.2) rotate(45)" y="4.13">2</text>
<text transform="translate(543.4 968.2) rotate(45)" y="4.13">3</text>
<text transform="translate(568.4 968.2) rotate(45)" y="4.13">4</text>
<text transform="translate(593.4 968.2) rotate(45)" y="4.13">5</text>
<text transform="translate(618.4 968.2) rotate(45)" y="4.13">6</text>
<text transform="translate(643.4 968.2) rotate(45)" y="4.13">7</text>
<text transform="translate(668.4 968.2) rotate(45)" y="4.13">8</text>
<text transform="translate(693.4 968.2) rotate(45)" y="4.13">9</text>
<text transform="translate(718.4 968.2) rotate(45)" y="4.13">10</text>
<text transform="translate(743.4 968.2) rotate(45)" y="4.13">11</text>
<text transform="translate(768.4 968.2) rotate(45)" y="4.13">12</text>
<text transform="translate(793.4 968.2) rotate(45)" y="4.13">13</text>
<text transform="translate(818.4 968.2) rotate(45)" y="4.13">14</text>
<text transform="translate(843.4 968.2) rotate(45)" y="4.13">15</text>
<text transform="translate(868.4 968.2) rotate(45)" y="4.13">16</text>
<text transform="translate(893.4 968.2) rotate(45)" y="4.13">17</text>
<text transform="translate(918.4 968.2) rotate(45)" y="4.13">18</text>
<text transform="translate(943.4 968.2) rotate(45)" y="4.13">19</text>
<text transform="translate(968.4 968.2) rotate(45)" y="4.13">20</text>
<text transform="translate(993.4 968.2) rotate(45)" y="4.13">21</text>
<text transform="translate(1018.4 968.2) rotate(45)" y="4.13">22</text>
<text transform="translate(1043.4 968.2) rotate(45)" y="4.13">23</text>
<text transform="translate(1068.4 968.2) rotate(45)" y="4.13">24</text>
<text transform="translate(1153.4 968.2) rotate(45)" y="4.13">25</text>
<text transform="translate(1178.4 968.2) rotate(45)" y="4.13">26</text>
<text transform="translate(1203.4 968.2) rotate(45)" y="4.13">27</text>
<text transform="translate(1228.4 968.2) rotate(45)" y="4.13">28</text>
<text transform="translate(1253.4 968.2) rotate(45)" y="4.13">29</text>
<text transform="translate(1278.4 968.2) rotate(45)" y="4.13">30</text>
<text transform="translate(1303.4 968.2) rotate(45)" y="4.13">31</text>
<text transform="translate(1328.4 968.2) rotate(45)" y="4.13">32</text>
</g>
<g id="ab17">
<text transform="translate(493.4 1013.2) rotate(45)" y="4.13">1</text>
<text transform="translate(518.4 1013.2) rotate(45)" y="4.13">2</text>
<text transform="translate(543.4 1013.2) rotate(45)" y="4.13">3</text>
<text transform="translate(568.4 1013.2) rotate(45)" y="4.13">4</text>
<text transform="translate(593.4 1013.2) rotate(45)" y="4.13">5</text>
<text transform="translate(618.4 1013.2) rotate(45)" y="4.13">6</text>
<text transform="translate(643.4 1013.2) rotate(45)" y="4.13">7</text>
<text transform="translate(668.4 1013.2) rotate(45)" y="4.13">8</text>
<text transform="translate(693.4 1013.2) rotate(45)" y="4.13">9</text>
<text transform="translate(718.4 1013.2) rotate(45)" y="4.13">10</text>
<text transform="translate(743.4 1013.2) rotate(45)" y="4.13">11</text>
<text transform="translate(768.4 1013.2) rotate(45)" y="4.13">12</text>
<text transform="translate(793.4 1013.2) rotate(45)" y="4.13">13</text>
<text transform="translate(818.4 1013.2) rotate(45)" y="4.13">14</text>
<text transform="translate(843.4 1013.2) rotate(45)" y="4.13">15</text>
<text transform="translate(868.4 1013.2) rotate(45)" y="4.13">16</text>
<text transform="translate(893.4 1013.2) rotate(45)" y="4.13">17</text>
<text transform="translate(918.4 1013.2) rotate(45)" y="4.13">18</text>
<text transform="translate(943.4 1013.2) rotate(45)" y="4.13">19</text>
<text transform="translate(968.4 1013.2) rotate(45)" y="4.13">20</text>
<text transform="translate(993.4 1013.2) rotate(45)" y="4.13">21</text>
<text transform="translate(1018.4 1013.2) rotate(45)" y="4.13">22</text>
<text transform="translate(1043.4 1013.2) rotate(45)" y="4.13">23</text>
<text transform="translate(1068.4 1013.2) rotate(45)" y="4.13">24</text>
<text transform="translate(1153.4 1013.2) rotate(45)" y="4.13">25</text>
<text transform="translate(1178.4 1013.2) rotate(45)" y="4.13">26</text>
<text transform="translate(1203.4 1013.2) rotate(45)" y="4.13">27</text>
<text transform="translate(1228.4 1013.2) rotate(45)" y="4.13">28</text>
<text transform="translate(1253.4 1013.2) rotate(45)" y="4.13">29</text>
<text transform="translate(1278.4 1013.2) rotate(45)" y="4.13">30</text>
<text transform="translate(1303.4 1013.2) rotate(45)" y="4.13">31</text>
<text transform="translate(1328.4 1013.2) rotate(45)" y="4.13">32</text>
</g>
<g id="ab18">
<text transform="translate(493.4 1058.2) rotate(45)" y="4.13">1</text>
<text transform="translate(518.4 1058.2) rotate(45)" y="4.13">2</text>
<text transform="translate(543.4 1058.2) rotate(45)" y="4.13">3</text>
<text transform="translate(568.4 1058.2) rotate(45)" y="4.13">4</text>
<text transform="translate(593.4 1058.2) rotate(45)" y="4.13">5</text>
<text transform="translate(618.4 1058.2) rotate(45)" y="4.13">6</text>
<text transform="translate(643.4 1058.2) rotate(45)" y="4.13">7</text>
<text transform="translate(668.4 1058.2) rotate(45)" y="4.13">8</text>
<text transform="translate(693.4 1058.2) rotate(45)" y="4.13">9</text>
<text transform="translate(718.4 1058.2) rotate(45)" y="4.13">10</text>
<text transform="translate(743.4 1058.2) rotate(45)" y="4.13">11</text>
<text transform="translate(768.4 1058.2) rotate(45)" y="4.13">12</text>
<text transform="translate(793.4 1058.2) rotate(45)" y="4.13">13</text>
<text transform="translate(818.4 1058.2) rotate(45)" y="4.13">14</text>
<text transform="translate(843.4 1058.2) rotate(45)" y="4.13">15</text>
<text transform="translate(868.4 1058.2) rotate(45)" y="4.13">16</text>
<text transform="translate(893.4 1058.2) rotate(45)" y="4.13">17</text>
<text transform="translate(918.4 1058.2) rotate(45)" y="4.13">18</text>
<text transform="translate(943.4 1058.2) rotate(45)" y="4.13">19</text>
<text transform="translate(968.4 1058.2) rotate(45)" y="4.13">20</text>
<text transform="translate(993.4 1058.2) rotate(45)" y="4.13">21</text>
<text transform="translate(1018.4 1058.2) rotate(45)" y="4.13">22</text>
<text transform="translate(1043.4 1058.2) rotate(45)" y="4.13">23</text>
<text transform="translate(1068.4 1058.2) rotate(45)" y="4.13">24</text>
<text transform="translate(1153.4 1058.2) rotate(45)" y="4.13">25</text>
<text transform="translate(1178.4 1058.2) rotate(45)" y="4.13">26</text>
<text transform="translate(1203.4 1058.2) rotate(45)" y="4.13">27</text>
<text transform="translate(1228.4 1058.2) rotate(45)" y="4.13">28</text>
<text transform="translate(1253.4 1058.2) rotate(45)" y="4.13">29</text>
<text transform="translate(1278.4 1058.2) rotate(45)" y="4.13">30</text>
<text transform="translate(1303.4 1058.2) rotate(45)" y="4.13">31</text>
<text transform="translate(1328.4 1058.2) rotate(45)" y="4.13">32</text>
</g>
<g id="ab19">
<text transform="translate(493.4 1103.2) rotate(45)" y="4.13">1</text>
<text transform="translate(518.4 1103.2) rotate(45)" y="4.13">2</text>
<text transform="translate(543.4 1103.2) rotate(45)" y="4.13">3</text>
<text transform="translate(568.4 1103.2) rotate(45)" y="4.13">4</text>
<text transform="translate(593.4 1103.2) rotate(45)" y="4.13">5</text>
<text transform="translate(618.4 1103.2) rotate(45)" y="4.13">6</text>
<text transform="translate(643.4 1103.2) rotate(45)" y="4.13">7</text>
<text transform="translate(668.4 1103.2) rotate(45)" y="4.13">8</text>
<text transform="translate(693.4 1103.2) rotate(45)" y="4.13">9</text>
<text transform="translate(718.4 1103.2) rotate(45)" y="4.13">10</text>
<text transform="translate(743.4 1103.2) rotate(45)" y="4.13">11</text>
<text transform="translate(768.4 1103.2) rotate(45)" y="4.13">12</text>
<text transform="translate(793.4 1103.2) rotate(45)" y="4.13">13</text>
<text transform="translate(818.4 1103.2) rotate(45)" y="4.13">14</text>
<text transform="translate(843.4 1103.2) rotate(45)" y="4.13">15</text>
<text transform="translate(868.4 1103.2) rotate(45)" y="4.13">16</text>
<text transform="translate(893.4 1103.2) rotate(45)" y="4.13">17</text>
<text transform="translate(918.4 1103.2) rotate(45)" y="4.13">18</text>
<text transform="translate(943.4 1103.2) rotate(45)" y="4.13">19</text>
<text transform="translate(968.4 1103.2) rotate(45)" y="4.13">20</text>
<text transform="translate(993.4 1103.2) rotate(45)" y="4.13">21</text>
<text transform="translate(1018.4 1103.2) rotate(45)" y="4.13">22</text>
<text transform="translate(1043.4 1103.2) rotate(45)" y="4.13">23</text>
<text transform="translate(1068.4 1103.2) rotate(45)" y="4.13">24</text>
<text transform="translate(1153.4 1103.2) rotate(45)" y="4.13">25</text>
<text transform="translate(1178.4 1103.2) rotate(45)" y="4.13">26</text>
<text transform="translate(1203.4 1103.2) rotate(45)" y="4.13">27</text>
<text transform="translate(1228.4 1103.2) rotate(45)" y="4.13">28</text>
<text transform="translate(1253.4 1103.2) rotate(45)" y="4.13">29</text>
<text transform="translate(1278.4 1103.2) rotate(45)" y="4.13">30</text>
<text transform="translate(1303.4 1103.2) rotate(45)" y="4.13">31</text>
<text transform="translate(1328.4 1103.2) rotate(45)" y="4.13">32</text>
</g>
<g id="ab20">
<text transform="translate(493.4 1148.2) rotate(45)" y="4.13">1</text>
<text transform="translate(518.4 1148.2) rotate(45)" y="4.13">2</text>
<text transform="translate(543.4 1148.2) rotate(45)" y="4.13">3</text>
<text transform="translate(568.4 1148.2) rotate(45)" y="4.13">4</text>
<text transform="translate(593.4 1148.2) rotate(45)" y="4.13">5</text>
<text transform="translate(618.4 1148.2) rotate(45)" y="4.13">6</text>
<text transform="translate(643.4 1148.2) rotate(45)" y="4.13">7</text>
<text transform="translate(668.4 1148.2) rotate(45)" y="4.13">8</text>
<text transform="translate(693.4 1148.2) rotate(45)" y="4.13">9</text>
<text transform="translate(718.4 1148.2) rotate(45)" y="4.13">10</text>
<text transform="translate(743.4 1148.2) rotate(45)" y="4.13">11</text>
<text transform="translate(768.4 1148.2) rotate(45)" y="4.13">12</text>
<text transform="translate(793.4 1148.2) rotate(45)" y="4.13">13</text>
<text transform="translate(818.4 1148.2) rotate(45)" y="4.13">14</text>
<text transform="translate(843.4 1148.2) rotate(45)" y="4.13">15</text>
<text transform="translate(868.4 1148.2) rotate(45)" y="4.13">16</text>
<text transform="translate(893.4 1148.2) rotate(45)" y="4.13">17</text>
<text transform="translate(918.4 1148.2) rotate(45)" y="4.13">18</text>
<text transform="translate(943.4 1148.2) rotate(45)" y="4.13">19</text>
<text transform="translate(968.4 1148.2) rotate(45)" y="4.13">20</text>
<text transform="translate(993.4 1148.2) rotate(45)" y="4.13">21</text>
<text transform="translate(1018.4 1148.2) rotate(45)" y="4.13">22</text>
<text transform="translate(1043.4 1148.2) rotate(45)" y="4.13">23</text>
<text transform="translate(1068.4 1148.2) rotate(45)" y="4.13">24</text>
<text transform="translate(1153.4 1148.2) rotate(45)" y="4.13">25</text>
<text transform="translate(1178.4 1148.2) rotate(45)" y="4.13">26</text>
<text transform="translate(1203.4 1148.2) rotate(45)" y="4.13">27</text>
<text transform="translate(1228.4 1148.2) rotate(45)" y="4.13">28</text>
<text transform="translate(1253.4 1148.2) rotate(45)" y="4.13">29</text>
<text transform="translate(1278.4 1148.2) rotate(45)" y="4.13">30</text>
<text transform="translate(1303.4 1148.2) rotate(45)" y="4.13">31</text>
<text transform="translate(1328.4 1148.2) rotate(45)" y="4.13">32</text>
</g>
<g id="ab21">
<text transform="translate(493.4 1193.2) rotate(45)" y="4.13">1</text>
<text transform="translate(518.4 1193.2) rotate(45)" y="4.13">2</text>
<text transform="translate(543.4 1193.2) rotate(45)" y="4.13">3</text>
<text transform="translate(568.4 1193.2) rotate(45)" y="4.13">4</text>
<text transform="translate(593.4 1193.2) rotate(45)" y="4.13">5</text>
<text transform="translate(618.4 1193.2) rotate(45)" y="4.13">6</text>
<text transform="translate(643.4 1193.2) rotate(45)" y="4.13">7</text>
<text transform="translate(668.4 1193.2) rotate(45)" y="4.13">8</text>
<text transform="translate(693.4 1193.2) rotate(45)" y="4.13">9</text>
<text transform="translate(718.4 1193.2) rotate(45)" y="4.13">10</text>
<text transform="translate(743.4 1193.2) rotate(45)" y="4.13">11</text>
<text transform="translate(768.4 1193.2) rotate(45)" y="4.13">12</text>
<text transform="translate(793.4 1193.2) rotate(45)" y="4.13">13</text>
<text transform="translate(818.4 1193.2) rotate(45)" y="4.13">14</text>
<text transform="translate(843.4 1193.2) rotate(45)" y="4.13">15</text>
<text transform="translate(868.4 1193.2) rotate(45)" y="4.13">16</text>
<text transform="translate(893.4 1193.2) rotate(45)" y="4.13">17</text>
<text transform="translate(918.4 1193.2) rotate(45)" y="4.13">18</text>
<text transform="translate(943.4 1193.2) rotate(45)" y="4.13">19</text>
<text transform="translate(968.4 1193.2) rotate(45)" y="4.13">20</text>
<text transform="translate(993.4 1193.2) rotate(45)" y="4.13">21</text>
<text transform="translate(1018.4 1193.2) rotate(45)" y="4.13">22</text>
<text transform="translate(1043.4 1193.2) rotate(45)" y="4.13">23</text>
<text transform="translate(1068.4 1193.2) rotate(45)" y="4.13">24</text>
<text transform="translate(1153.4 1193.2) rotate(45)" y="4.13">25</text>
<text transform="translate(1178.4 1193.2) rotate(45)" y="4.13">26</text>
<text transform="translate(1203.4 1193.2) rotate(45)" y="4.13">27</text>
<text transform="translate(1228.4 1193.2) rotate(45)" y="4.13">28</text>
<text transform="translate(1253.4 1193.2) rotate(45)" y="4.13">29</text>
<text transform="translate(1278.4 1193.2) rotate(45)" y="4.13">30</text>
<text transform="translate(1303.4 1193.2) rotate(45)" y="4.13">31</text>
<text transform="translate(1328.4 1193.2) rotate(45)" y="4.13">32</text>
</g>
<g id="ab22">
<text transform="translate(493.4 1238.2) rotate(45)" y="4.13">1</text>
<text transform="translate(518.4 1238.2) rotate(45)" y="4.13">2</text>
<text transform="translate(543.4 1238.2) rotate(45)" y="4.13">3</text>
<text transform="translate(568.4 1238.2) rotate(45)" y="4.13">4</text>
<text transform="translate(593.4 1238.2) rotate(45)" y="4.13">5</text>
<text transform="translate(618.4 1238.2) rotate(45)" y="4.13">6</text>
<text transform="translate(643.4 1238.2) rotate(45)" y="4.13">7</text>
<text transform="translate(668.4 1238.2) rotate(45)" y="4.13">8</text>
<text transform="translate(693.4 1238.2) rotate(45)" y="4.13">9</text>
<text transform="translate(718.4 1238.2) rotate(45)" y="4.13">10</text>
<text transform="translate(743.4 1238.2) rotate(45)" y="4.13">11</text>
<text transform="translate(768.4 1238.2) rotate(45)" y="4.13">12</text>
<text transform="translate(793.4 1238.2) rotate(45)" y="4.13">13</text>
<text transform="translate(818.4 1238.2) rotate(45)" y="4.13">14</text>
<text transform="translate(843.4 1238.2) rotate(45)" y="4.13">15</text>
<text transform="translate(868.4 1238.2) rotate(45)" y="4.13">16</text>
<text transform="translate(893.4 1238.2) rotate(45)" y="4.13">17</text>
<text transform="translate(918.4 1238.2) rotate(45)" y="4.13">18</text>
<text transform="translate(943.4 1238.2) rotate(45)" y="4.13">19</text>
<text transform="translate(968.4 1238.2) rotate(45)" y="4.13">20</text>
<text transform="translate(993.4 1238.2) rotate(45)" y="4.13">21</text>
<text transform="translate(1018.4 1238.2) rotate(45)" y="4.13">22</text>
<text transform="translate(1043.4 1238.2) rotate(45)" y="4.13">23</text>
<text transform="translate(1068.4 1238.2) rotate(45)" y="4.13">24</text>
<text transform="translate(1153.4 1238.2) rotate(45)" y="4.13">25</text>
<text transform="translate(1178.4 1238.2) rotate(45)" y="4.13">26</text>
<text transform="translate(1203.4 1238.2) rotate(45)" y="4.13">27</text>
<text transform="translate(1228.4 1238.2) rotate(45)" y="4.13">28</text>
<text transform="translate(1253.4 1238.2) rotate(45)" y="4.13">29</text>
<text transform="translate(1278.4 1238.2) rotate(45)" y="4.13">30</text>
<text transform="translate(1303.4 1238.2) rotate(45)" y="4.13">31</text>
<text transform="translate(1328.4 1238.2) rotate(45)" y="4.13">32</text>
</g>
<g id="ab23">
<text transform="translate(493.4 1283.2) rotate(45)" y="4.13">1</text>
<text transform="translate(518.4 1283.2) rotate(45)" y="4.13">2</text>
<text transform="translate(543.4 1283.2) rotate(45)" y="4.13">3</text>
<text transform="translate(568.4 1283.2) rotate(45)" y="4.13">4</text>
<text transform="translate(593.4 1283.2) rotate(45)" y="4.13">5</text>
<text transform="translate(618.4 1283.2) rotate(45)" y="4.13">6</text>
<text transform="translate(643.4 1283.2) rotate(45)" y="4.13">7</text>
<text transform="translate(668.4 1283.2) rotate(45)" y="4.13">8</text>
<text transform="translate(693.4 1283.2) rotate(45)" y="4.13">9</text>
<text transform="translate(718.4 1283.2) rotate(45)" y="4.13">10</text>
<text transform="translate(743.4 1283.2) rotate(45)" y="4.13">11</text>
<text transform="translate(768.4 1283.2) rotate(45)" y="4.13">12</text>
<text transform="translate(793.4 1283.2) rotate(45)" y="4.13">13</text>
<text transform="translate(818.4 1283.2) rotate(45)" y="4.13">14</text>
<text transform="translate(843.4 1283.2) rotate(45)" y="4.13">15</text>
<text transform="translate(868.4 1283.2) rotate(45)" y="4.13">16</text>
<text transform="translate(893.4 1283.2) rotate(45)" y="4.13">17</text>
<text transform="translate(918.4 1283.2) rotate(45)" y="4.13">18</text>
<text transform="translate(943.4 1283.2) rotate(45)" y="4.13">19</text>
<text transform="translate(968.4 1283.2) rotate(45)" y="4.13">20</text>
<text transform="translate(993.4 1283.2) rotate(45)" y="4.13">21</text>
<text transform="translate(1018.4 1283.2) rotate(45)" y="4.13">22</text>
<text transform="translate(1043.4 1283.2) rotate(45)" y="4.13">23</text>
<text transform="translate(1068.4 1283.2) rotate(45)" y="4.13">24</text>
<text transform="translate(1153.4 1283.2) rotate(45)" y="4.13">25</text>
<text transform="translate(1178.4 1283.2) rotate(45)" y="4.13">26</text>
<text transform="translate(1203.4 1283.2) rotate(45)" y="4.13">27</text>
<text transform="translate(1228.4 1283.2) rotate(45)" y="4.13">28</text>
<text transform="translate(1253.4 1283.2) rotate(45)" y="4.13">29</text>
<text transform="translate(1278.4 1283.2) rotate(45)" y="4.13">30</text>
<text transform="translate(1303.4 1283.2) rotate(45)" y="4.13">31</text>
<text transform="translate(1328.4 1283.2) rotate(45)" y="4.13">32</text>
</g>
<g id="ab24">
<text transform="translate(493.4 1328.2) rotate(45)" y="4.13">1</text>
<text transform="translate(518.4 1328.2) rotate(45)" y="4.13">2</text>
<text transform="translate(543.4 1328.2) rotate(45)" y="4.13">3</text>
<text transform="translate(568.4 1328.2) rotate(45)" y="4.13">4</text>
<text transform="translate(593.4 1328.2) rotate(45)" y="4.13">5</text>
<text transform="translate(618.4 1328.2) rotate(45)" y="4.13">6</text>
<text transform="translate(643.4 1328.2) rotate(45)" y="4.13">7</text>
<text transform="translate(668.4 1328.2) rotate(45)" y="4.13">8</text>
<text transform="translate(693.4 1328.2) rotate(45)" y="4.13">9</text>
<text transform="translate(718.4 1328.2) rotate(45)" y="4.13">10</text>
<text transform="translate(743.4 1328.2) rotate(45)" y="4.13">11</text>
<text transform="translate(768.4 1328.2) rotate(45)" y="4.13">12</text>
<text transform="translate(793.4 1328.2) rotate(45)" y="4.13">13</text>
<text transform="translate(818.4 1328.2) rotate(45)" y="4.13">14</text>
<text transform="translate(843.4 1328.2) rotate(45)" y="4.13">15</text>
<text transform="translate(868.4 1328.2) rotate(45)" y="4.13">16</text>
<text transform="translate(893.4 1328.2) rotate(45)" y="4.13">17</text>
<text transform="translate(918.4 1328.2) rotate(45)" y="4.13">18</text>
<text transform="translate(943.4 1328.2) rotate(45)" y="4.13">19</text>
<text transform="translate(968.4 1328.2) rotate(45)" y="4.13">20</text>
<text transform="translate(993.4 1328.2) rotate(45)" y="4.13">21</text>
<text transform="translate(1018.4 1328.2) rotate(45)" y="4.13">22</text>
<text transform="translate(1043.4 1328.2) rotate(45)" y="4.13">23</text>
<text transform="translate(1068.4 1328.2) rotate(45)" y="4.13">24</text>
<text transform="translate(1153.4 1328.2) rotate(45)" y="4.13">25</text>
<text transform="translate(1178.4 1328.2) rotate(45)" y="4.13">26</text>
<text transform="translate(1203.4 1328.2) rotate(45)" y="4.13">27</text>
<text transform="translate(1228.4 1328.2) rotate(45)" y="4.13">28</text>
<text transform="translate(1253.4 1328.2) rotate(45)" y="4.13">29</text>
<text transform="translate(1278.4 1328.2) rotate(45)" y="4.13">30</text>
<text transform="translate(1303.4 1328.2) rotate(45)" y="4.13">31</text>
<text transform="translate(1328.4 1328.2) rotate(45)" y="4.13">32</text>
</g>
<g id="ab25">
<text transform="translate(493.4 1373.2) rotate(45)" y="4.13">1</text>
<text transform="translate(518.4 1373.2) rotate(45)" y="4.13">2</text>
<text transform="translate(543.4 1373.2) rotate(45)" y="4.13">3</text>
<text transform="translate(568.4 1373.2) rotate(45)" y="4.13">4</text>
<text transform="translate(593.4 1373.2) rotate(45)" y="4.13">5</text>
<text transform="translate(618.4 1373.2) rotate(45)" y="4.13">6</text>
<text transform="translate(643.4 1373.2) rotate(45)" y="4.13">7</text>
<text transform="translate(668.4 1373.2) rotate(45)" y="4.13">8</text>
<text transform="translate(693.4 1373.2) rotate(45)" y="4.13">9</text>
<text transform="translate(718.4 1373.2) rotate(45)" y="4.13">10</text>
<text transform="translate(743.4 1373.2) rotate(45)" y="4.13">11</text>
<text transform="translate(768.4 1373.2) rotate(45)" y="4.13">12</text>
<text transform="translate(793.4 1373.2) rotate(45)" y="4.13">13</text>
<text transform="translate(818.4 1373.2) rotate(45)" y="4.13">14</text>
<text transform="translate(843.4 1373.2) rotate(45)" y="4.13">15</text>
<text transform="translate(868.4 1373.2) rotate(45)" y="4.13">16</text>
<text transform="translate(893.4 1373.2) rotate(45)" y="4.13">17</text>
<text transform="translate(918.4 1373.2) rotate(45)" y="4.13">18</text>
<text transform="translate(943.4 1373.2) rotate(45)" y="4.13">19</text>
<text transform="translate(968.4 1373.2) rotate(45)" y="4.13">20</text>
<text transform="translate(993.4 1373.2) rotate(45)" y="4.13">21</text>
<text transform="translate(1018.4 1373.2) rotate(45)" y="4.13">22</text>
<text transform="translate(1043.4 1373.2) rotate(45)" y="4.13">23</text>
<text transform="translate(1068.4 1373.2) rotate(45)" y="4.13">24</text>
<text transform="translate(1153.4 1373.2) rotate(45)" y="4.13">25</text>
<text transform="translate(1178.4 1373.2) rotate(45)" y="4.13">26</text>
<text transform="translate(1203.4 1373.2) rotate(45)" y="4.13">27</text>
<text transform="translate(1228.4 1373.2) rotate(45)" y="4.13">28</text>
<text transform="translate(1253.4 1373.2) rotate(45)" y="4.13">29</text>
<text transform="translate(1278.4 1373.2) rotate(45)" y="4.13">30</text>
<text transform="translate(1303.4 1373.2) rotate(45)" y="4.13">31</text>
<text transform="translate(1328.4 1373.2) rotate(45)" y="4.13">32</text>
</g>
<g id="ab26">
<text transform="translate(493.4 1418.2) rotate(45)" y="4.13">1</text>
<text transform="translate(518.4 1418.2) rotate(45)" y="4.13">2</text>
<text transform="translate(543.4 1418.2) rotate(45)" y="4.13">3</text>
<text transform="translate(568.4 1418.2) rotate(45)" y="4.13">4</text>
<text transform="translate(593.4 1418.2) rotate(45)" y="4.13">5</text>
<text transform="translate(618.4 1418.2) rotate(45)" y="4.13">6</text>
<text transform="translate(643.4 1418.2) rotate(45)" y="4.13">7</text>
<text transform="translate(668.4 1418.2) rotate(45)" y="4.13">8</text>
<text transform="translate(693.4 1418.2) rotate(45)" y="4.13">9</text>
<text transform="translate(718.4 1418.2) rotate(45)" y="4.13">10</text>
<text transform="translate(743.4 1418.2) rotate(45)" y="4.13">11</text>
<text transform="translate(768.4 1418.2) rotate(45)" y="4.13">12</text>
<text transform="translate(793.4 1418.2) rotate(45)" y="4.13">13</text>
<text transform="translate(818.4 1418.2) rotate(45)" y="4.13">14</text>
<text transform="translate(843.4 1418.2) rotate(45)" y="4.13">15</text>
<text transform="translate(868.4 1418.2) rotate(45)" y="4.13">16</text>
<text transform="translate(893.4 1418.2) rotate(45)" y="4.13">17</text>
<text transform="translate(918.4 1418.2) rotate(45)" y="4.13">18</text>
<text transform="translate(943.4 1418.2) rotate(45)" y="4.13">19</text>
<text transform="translate(968.4 1418.2) rotate(45)" y="4.13">20</text>
<text transform="translate(993.4 1418.2) rotate(45)" y="4.13">21</text>
<text transform="translate(1018.4 1418.2) rotate(45)" y="4.13">22</text>
<text transform="translate(1043.4 1418.2) rotate(45)" y="4.13">23</text>
<text transform="translate(1068.4 1418.2) rotate(45)" y="4.13">24</text>
<text transform="translate(1153.4 1418.2) rotate(45)" y="4.13">25</text>
<text transform="translate(1178.4 1418.2) rotate(45)" y="4.13">26</text>
<text transform="translate(1203.4 1418.2) rotate(45)" y="4.13">27</text>
<text transform="translate(1228.4 1418.2) rotate(45)" y="4.13">28</text>
<text transform="translate(1253.4 1418.2) rotate(45)" y="4.13">29</text>
<text transform="translate(1278.4 1418.2) rotate(45)" y="4.13">30</text>
<text transform="translate(1303.4 1418.2) rotate(45)" y="4.13">31</text>
<text transform="translate(1328.4 1418.2) rotate(45)" y="4.13">32</text>
</g>
<g id="ab27">
<text transform="translate(493.4 1463.2) rotate(45)" y="4.13">1</text>
<text transform="translate(518.4 1463.2) rotate(45)" y="4.13">2</text>
<text transform="translate(543.4 1463.2) rotate(45)" y="4.13">3</text>
<text transform="translate(568.4 1463.2) rotate(45)" y="4.13">4</text>
<text transform="translate(593.4 1463.2) rotate(45)" y="4.13">5</text>
<text transform="translate(618.4 1463.2) rotate(45)" y="4.13">6</text>
<text transform="translate(643.4 1463.2) rotate(45)" y="4.13">7</text>
<text transform="translate(668.4 1463.2) rotate(45)" y="4.13">8</text>
<text transform="translate(693.4 1463.2) rotate(45)" y="4.13">9</text>
<text transform="translate(718.4 1463.2) rotate(45)" y="4.13">10</text>
<text transform="translate(743.4 1463.2) rotate(45)" y="4.13">11</text>
<text transform="translate(768.4 1463.2) rotate(45)" y="4.13">12</text>
<text transform="translate(793.4 1463.2) rotate(45)" y="4.13">13</text>
<text transform="translate(818.4 1463.2) rotate(45)" y="4.13">14</text>
<text transform="translate(843.4 1463.2) rotate(45)" y="4.13">15</text>
<text transform="translate(868.4 1463.2) rotate(45)" y="4.13">16</text>
<text transform="translate(893.4 1463.2) rotate(45)" y="4.13">17</text>
<text transform="translate(918.4 1463.2) rotate(45)" y="4.13">18</text>
<text transform="translate(943.4 1463.2) rotate(45)" y="4.13">19</text>
<text transform="translate(968.4 1463.2) rotate(45)" y="4.13">20</text>
<text transform="translate(993.4 1463.2) rotate(45)" y="4.13">21</text>
<text transform="translate(1018.4 1463.2) rotate(45)" y="4.13">22</text>
<text transform="translate(1043.4 1463.2) rotate(45)" y="4.13">23</text>
<text transform="translate(1068.4 1463.2) rotate(45)" y="4.13">24</text>
<text transform="translate(1153.4 1463.2) rotate(45)" y="4.13">25</text>
<text transform="translate(1178.4 1463.2) rotate(45)" y="4.13">26</text>
<text transform="translate(1203.4 1463.2) rotate(45)" y="4.13">27</text>
<text transform="translate(1228.4 1463.2) rotate(45)" y="4.13">28</text>
<text transform="translate(1253.4 1463.2) rotate(45)" y="4.13">29</text>
<text transform="translate(1278.4 1463.2) rotate(45)" y="4.13">30</text>
<text transform="translate(1303.4 1463.2) rotate(45)" y="4.13">31</text>
<text transform="translate(1328.4 1463.2) rotate(45)" y="4.13">32</text>
</g>
<g id="ab28">
<text transform="translate(493.4 1508.2) rotate(45)" y="4.13">1</text>
<text transform="translate(518.4 1508.2) rotate(45)" y="4.13">2</text>
<text transform="translate(543.4 1508.2) rotate(45)" y="4.13">3</text>
<text transform="translate(568.4 1508.2) rotate(45)" y="4.13">4</text>
<text transform="translate(593.4 1508.2) rotate(45)" y="4.13">5</text>
<text transform="translate(618.4 1508.2) rotate(45)" y="4.13">6</text>
<text transform="translate(643.4 1508.2) rotate(45)" y="4.13">7</text>
<text transform="translate(668.4 1508.2) rotate(45)" y="4.13">8</text>
<text transform="translate(693.4 1508.2) rotate(45)" y="4.13">9</text>
<text transform="translate(718.4 1508.2) rotate(45)" y="4.13">10</text>
<text transform="translate(743.4 1508.2) rotate(45)" y="4.13">11</text>
<text transform="translate(768.4 1508.2) rotate(45)" y="4.13">12</text>
<text transform="translate(793.4 1508.2) rotate(45)" y="4.13">13</text>
<text transform="translate(818.4 1508.2) rotate(45)" y="4.13">14</text>
<text transform="translate(843.4 1508.2) rotate(45)" y="4.13">15</text>
<text transform="translate(868.4 1508.2) rotate(45)" y="4.13">16</text>
<text transform="translate(893.4 1508.2) rotate(45)" y="4.13">17</text>
<text transform="translate(918.4 1508.2) rotate(45)" y="4.13">18</text>
<text transform="translate(943.4 1508.2) rotate(45)" y="4.13">19</text>
<text transform="translate(968.4 1508.2) rotate(45)" y="4.13">20</text>
<text transform="translate(993.4 1508.2) rotate(45)" y="4.13">21</text>
<text transform="translate(1018.4 1508.2) rotate(45)" y="4.13">22</text>
<text transform="translate(1043.4 1508.2) rotate(45)" y="4.13">23</text>
<text transform="translate(1068.4 1508.2) rotate(45)" y="4.13">24</text>
<text transform="translate(1153.4 1508.2) rotate(45)" y="4.13">25</text>
<text transform="translate(1178.4 1508.2) rotate(45)" y="4.13">26</text>
<text transform="translate(1203.4 1508.2) rotate(45)" y="4.13">27</text>
<text transform="translate(1228.4 1508.2) rotate(45)" y="4.13">28</text>
<text transform="translate(1253.4 1508.2) rotate(45)" y="4.13">29</text>
<text transform="translate(1278.4 1508.2) rotate(45)" y="4.13">30</text>
<text transform="translate(1303.4 1508.2) rotate(45)" y="4.13">31</text>
<text transform="translate(1328.4 1508.2) rotate(45)" y="4.13">32</text>
</g>
<g id="ab29">
<text transform="translate(493.4 1553.2) rotate(45)" y="4.13">1</text>
<text transform="translate(518.4 1553.2) rotate(45)" y="4.13">2</text>
<text transform="translate(543.4 1553.2) rotate(45)" y="4.13">3</text>
<text transform="translate(568.4 1553.2) rotate(45)" y="4.13">4</text>
<text transform="translate(593.4 1553.2) rotate(45)" y="4.13">5</text>
<text transform="translate(618.4 1553.2) rotate(45)" y="4.13">6</text>
<text transform="translate(643.4 1553.2) rotate(45)" y="4.13">7</text>
<text transform="translate(668.4 1553.2) rotate(45)" y="4.13">8</text>
<text transform="translate(693.4 1553.2) rotate(45)" y="4.13">9</text>
<text transform="translate(718.4 1553.2) rotate(45)" y="4.13">10</text>
<text transform="translate(743.4 1553.2) rotate(45)" y="4.13">11</text>
<text transform="translate(768.4 1553.2) rotate(45)" y="4.13">12</text>
<text transform="translate(793.4 1553.2) rotate(45)" y="4.13">13</text>
<text transform="translate(818.4 1553.2) rotate(45)" y="4.13">14</text>
<text transform="translate(843.4 1553.2) rotate(45)" y="4.13">15</text>
<text transform="translate(868.4 1553.2) rotate(45)" y="4.13">16</text>
<text transform="translate(893.4 1553.2) rotate(45)" y="4.13">17</text>
<text transform="translate(918.4 1553.2) rotate(45)" y="4.13">18</text>
<text transform="translate(943.4 1553.2) rotate(45)" y="4.13">19</text>
<text transform="translate(968.4 1553.2) rotate(45)" y="4.13">20</text>
<text transform="translate(993.4 1553.2) rotate(45)" y="4.13">21</text>
<text transform="translate(1018.4 1553.2) rotate(45)" y="4.13">22</text>
<text transform="translate(1043.4 1553.2) rotate(45)" y="4.13">23</text>
<text transform="translate(1068.4 1553.2) rotate(45)" y="4.13">24</text>
<text transform="translate(1153.4 1553.2) rotate(45)" y="4.13">25</text>
<text transform="translate(1178.4 1553.2) rotate(45)" y="4.13">26</text>
<text transform="translate(1203.4 1553.2) rotate(45)" y="4.13">27</text>
<text transform="translate(1228.4 1553.2) rotate(45)" y="4.13">28</text>
<text transform="translate(1253.4 1553.2) rotate(45)" y="4.13">29</text>
<text transform="translate(1278.4 1553.2) rotate(45)" y="4.13">30</text>
<text transform="translate(1303.4 1553.2) rotate(45)" y="4.13">31</text>
<text transform="translate(1328.4 1553.2) rotate(45)" y="4.13">32</text>
</g>
<g id="ab30">
<text transform="translate(493.4 1598.2) rotate(45)" y="4.13">1</text>
<text transform="translate(518.4 1598.2) rotate(45)" y="4.13">2</text>
<text transform="translate(543.4 1598.2) rotate(45)" y="4.13">3</text>
<text transform="translate(568.4 1598.2) rotate(45)" y="4.13">4</text>
<text transform="translate(593.4 1598.2) rotate(45)" y="4.13">5</text>
<text transform="translate(618.4 1598.2) rotate(45)" y="4.13">6</text>
<text transform="translate(643.4 1598.2) rotate(45)" y="4.13">7</text>
<text transform="translate(668.4 1598.2) rotate(45)" y="4.13">8</text>
<text transform="translate(693.4 1598.2) rotate(45)" y="4.13">9</text>
<text transform="translate(718.4 1598.2) rotate(45)" y="4.13">10</text>
<text transform="translate(743.4 1598.2) rotate(45)" y="4.13">11</text>
<text transform="translate(768.4 1598.2) rotate(45)" y="4.13">12</text>
<text transform="translate(793.4 1598.2) rotate(45)" y="4.13">13</text>
<text transform="translate(818.4 1598.2) rotate(45)" y="4.13">14</text>
<text transform="translate(843.4 1598.2) rotate(45)" y="4.13">15</text>
<text transform="translate(868.4 1598.2) rotate(45)" y="4.13">16</text>
<text transform="translate(893.4 1598.2) rotate(45)" y="4.13">17</text>
<text transform="translate(918.4 1598.2) rotate(45)" y="4.13">18</text>
<text transform="translate(943.4 1598.2) rotate(45)" y="4.13">19</text>
<text transform="translate(968.4 1598.2) rotate(45)" y="4.13">20</text>
<text transform="translate(993.4 1598.2) rotate(45)" y="4.13">21</text>
<text transform="translate(1018.4 1598.2) rotate(45)" y="4.13">22</text>
<text transform="translate(1043.4 1598.2) rotate(45)" y="4.13">23</text>
<text transform="translate(1068.4 1598.2) rotate(45)" y="4.13">24</text>
<text transform="translate(1153.4 1598.2) rotate(45)" y="4.13">25</text>
<text transform="translate(1178.4 1598.2) rotate(45)" y="4.13">26</text>
<text transform="translate(1203.4 1598.2) rotate(45)" y="4.13">27</text>
<text transform="translate(1228.4 1598.2) rotate(45)" y="4.13">28</text>
<text transform="translate(1253.4 1598.2) rotate(45)" y="4.13">29</text>
<text transform="translate(1278.4 1598.2) rotate(45)" y="4.13">30</text>
<text transform="translate(1303.4 1598.2) rotate(45)" y="4.13">31</text>
<text transform="translate(1328.4 1598.2) rotate(45)" y="4.13">32</text>
</g>
<g id="ab31">
<text transform="translate(493.4 1643.2) rotate(45)" y="4.13">1</text>
<text transform="translate(518.4 1643.2) rotate(45)" y="4.13">2</text>
<text transform="translate(543.4 1643.2) rotate(45)" y="4.13">3</text>
<text transform="translate(568.4 1643.2) rotate(45)" y="4.13">4</text>
<text transform="translate(593.4 1643.2) rotate(45)" y="4.13">5</text>
<text transform="translate(618.4 1643.2) rotate(45)" y="4.13">6</text>
<text transform="translate(643.4 1643.2) rotate(45)" y="4.13">7</text>
<text transform="translate(668.4 1643.2) rotate(45)" y="4.13">8</text>
<text transform="translate(693.4 1643.2) rotate(45)" y="4.13">9</text>
<text transform="translate(718.4 1643.2) rotate(45)" y="4.13">10</text>
<text transform="translate(743.4 1643.2) rotate(45)" y="4.13">11</text>
<text transform="translate(768.4 1643.2) rotate(45)" y="4.13">12</text>
<text transform="translate(793.4 1643.2) rotate(45)" y="4.13">13</text>
<text transform="translate(818.4 1643.2) rotate(45)" y="4.13">14</text>
<text transform="translate(843.4 1643.2) rotate(45)" y="4.13">15</text>
<text transform="translate(868.4 1643.2) rotate(45)" y="4.13">16</text>
<text transform="translate(893.4 1643.2) rotate(45)" y="4.13">17</text>
<text transform="translate(918.4 1643.2) rotate(45)" y="4.13">18</text>
<text transform="translate(943.4 1643.2) rotate(45)" y="4.13">19</text>
<text transform="translate(968.4 1643.2) rotate(45)" y="4.13">20</text>
<text transform="translate(993.4 1643.2) rotate(45)" y="4.13">21</text>
<text transform="translate(1018.4 1643.2) rotate(45)" y="4.13">22</text>
<text transform="translate(1043.4 1643.2) rotate(45)" y="4.13">23</text>
<text transform="translate(1068.4 1643.2) rotate(45)" y="4.13">24</text>
<text transform="translate(1153.4 1643.2) rotate(45)" y="4.13">25</text>
<text transform="translate(1178.4 1643.2) rotate(45)" y="4.13">26</text>
<text transform="translate(1203.4 1643.2) rotate(45)" y="4.13">27</text>
<text transform="translate(1228.4 1643.2) rotate(45)" y="4.13">28</text>
<text transform="translate(1253.4 1643.2) rotate(45)" y="4.13">29</text>
<text transform="translate(1278.4 1643.2) rotate(45)" y="4.13">30</text>
<text transform="translate(1303.4 1643.2) rotate(45)" y="4.13">31</text>
<text transform="translate(1328.4 1643.2) rotate(45)" y="4.13">32</text>
</g>
<g id="ab32">
<text transform="translate(493.4 1688.2) rotate(45)" y="4.13">1</text>
<text transform="translate(518.4 1688.2) rotate(45)" y="4.13">2</text>
<text transform="translate(543.4 1688.2) rotate(45)" y="4.13">3</text>
<text transform="translate(568.4 1688.2) rotate(45)" y="4.13">4</text>
<text transform="translate(593.4 1688.2) rotate(45)" y="4.13">5</text>
<text transform="translate(618.4 1688.2) rotate(45)" y="4.13">6</text>
<text transform="translate(643.4 1688.2) rotate(45)" y="4.13">7</text>
<text transform="translate(668.4 1688.2) rotate(45)" y="4.13">8</text>
<text transform="translate(693.4 1688.2) rotate(45)" y="4.13">9</text>
<text transform="translate(718.4 1688.2) rotate(45)" y="4.13">10</text>
<text transform="translate(743.4 1688.2) rotate(45)" y="4.13">11</text>
<text transform="translate(768.4 1688.2) rotate(45)" y="4.13">12</text>
<text transform="translate(793.4 1688.2) rotate(45)" y="4.13">13</text>
<text transform="translate(818.4 1688.2) rotate(45)" y="4.13">14</text>
<text transform="translate(843.4 1688.2) rotate(45)" y="4.13">15</text>
<text transform="translate(868.4 1688.2) rotate(45)" y="4.13">16</text>
<text transform="translate(893.4 1688.2) rotate(45)" y="4.13">17</text>
<text transform="translate(918.4 1688.2) rotate(45)" y="4.13">18</text>
<text transform="translate(943.4 1688.2) rotate(45)" y="4.13">19</text>
<text transform="translate(968.4 1688.2) rotate(45)" y="4.13">20</text>
<text transform="translate(993.4 1688.2) rotate(45)" y="4.13">21</text>
<text transform="translate(1018.4 1688.2) rotate(45)" y="4.13">22</text>
<text transform="translate(1043.4 1688.2) rotate(45)" y="4.13">23</text>
<text transform="translate(1068.4 1688.2) rotate(45)" y="4.13">24</text>
<text transform="translate(1153.4 1688.2) rotate(45)" y="4.13">25</text>
<text transform="translate(1178.4 1688.2) rotate(45)" y="4.13">26</text>
<text transform="translate(1203.4 1688.2) rotate(45)" y="4.13">27</text>
<text transform="translate(1228.4 1688.2) rotate(45)" y="4.13">28</text>
<text transform="translate(1253.4 1688.2) rotate(45)" y="4.13">29</text>
<text transform="translate(1278.4 1688.2) rotate(45)" y="4.13">30</text>
<text transform="translate(1303.4 1688.2) rotate(45)" y="4.13">31</text>
<text transform="translate(1328.4 1688.2) rotate(45)" y="4.13">32</text>
</g>
<g id="ab33">
<text transform="translate(493.4 1733.2) rotate(45)" y="4.13">1</text>
<text transform="translate(518.4 1733.2) rotate(45)" y="4.13">2</text>
<text transform="translate(543.4 1733.2) rotate(45)" y="4.13">3</text>
<text transform="translate(568.4 1733.2) rotate(45)" y="4.13">4</text>
<text transform="translate(593.4 1733.2) rotate(45)" y="4.13">5</text>
<text transform="translate(618.4 1733.2) rotate(45)" y="4.13">6</text>
<text transform="translate(643.4 1733.2) rotate(45)" y="4.13">7</text>
<text transform="translate(668.4 1733.2) rotate(45)" y="4.13">8</text>
<text transform="translate(693.4 1733.2) rotate(45)" y="4.13">9</text>
<text transform="translate(718.4 1733.2) rotate(45)" y="4.13">10</text>
<text transform="translate(743.4 1733.2) rotate(45)" y="4.13">11</text>
<text transform="translate(768.4 1733.2) rotate(45)" y="4.13">12</text>
<text transform="translate(793.4 1733.2) rotate(45)" y="4.13">13</text>
<text transform="translate(818.4 1733.2) rotate(45)" y="4.13">14</text>
<text transform="translate(843.4 1733.2) rotate(45)" y="4.13">15</text>
<text transform="translate(868.4 1733.2) rotate(45)" y="4.13">16</text>
<text transform="translate(893.4 1733.2) rotate(45)" y="4.13">17</text>
<text transform="translate(918.4 1733.2) rotate(45)" y="4.13">18</text>
<text transform="translate(943.4 1733.2) rotate(45)" y="4.13">19</text>
<text transform="translate(968.4 1733.2) rotate(45)" y="4.13">20</text>
<text transform="translate(993.4 1733.2) rotate(45)" y="4.13">21</text>
<text transform="translate(1018.4 1733.2) rotate(45)" y="4.13">22</text>
<text transform="translate(1043.4 1733.2) rotate(45)" y="4.13">23</text>
<text transform="translate(1068.4 1733.2) rotate(45)" y="4.13">24</text>
<text transform="translate(1153.4 1733.2) rotate(45)" y="4.13">25</text>
<text transform="translate(1178.4 1733.2) rotate(45)" y="4.13">26</text>
<text transform="translate(1203.4 1733.2) rotate(45)" y="4.13">27</text>
<text transform="translate(1228.4 1733.2) rotate(45)" y="4.13">28</text>
<text transform="translate(1253.4 1733.2) rotate(45)" y="4.13">29</text>
<text transform="translate(1278.4 1733.2) rotate(45)" y="4.13">30</text>
<text transform="translate(1303.4 1733.2) rotate(45)" y="4.13">31</text>
<text transform="translate(1328.4 1733.2) rotate(45)" y="4.13">32</text>
</g>
<g id="ab34">
<text transform="translate(493.4 1778.2) rotate(45)" y="4.13">1</text>
<text transform="translate(518.4 1778.2) rotate(45)" y="4.13">2</text>
<text transform="translate(543.4 1778.2) rotate(45)" y="4.13">3</text>
<text transform="translate(568.4 1778.2) rotate(45)" y="4.13">4</text>
<text transform="translate(593.4 1778.2) rotate(45)" y="4.13">5</text>
<text transform="translate(618.4 1778.2) rotate(45)" y="4.13">6</text>
<text transform="translate(643.4 1778.2) rotate(45)" y="4.13">7</text>
<text transform="translate(668.4 1778.2) rotate(45)" y="4.13">8</text>
<text transform="translate(693.4 1778.2) rotate(45)" y="4.13">9</text>
<text transform="translate(718.4 1778.2) rotate(45)" y="4.13">10</text>
<text transform="translate(743.4 1778.2) rotate(45)" y="4.13">11</text>
<text transform="translate(768.4 1778.2) rotate(45)" y="4.13">12</text>
<text transform="translate(793.4 1778.2) rotate(45)" y="4.13">13</text>
<text transform="translate(818.4 1778.2) rotate(45)" y="4.13">14</text>
<text transform="translate(843.4 1778.2) rotate(45)" y="4.13">15</text>
<text transform="translate(868.4 1778.2) rotate(45)" y="4.13">16</text>
<text transform="translate(1153.4 1778.2) rotate(45)" y="4.13">25</text>
<text transform="translate(1178.4 1778.2) rotate(45)" y="4.13">26</text>
<text transform="translate(1203.4 1778.2) rotate(45)" y="4.13">27</text>
<text transform="translate(1228.4 1778.2) rotate(45)" y="4.13">28</text>
<text transform="translate(1253.4 1778.2) rotate(45)" y="4.13">29</text>
<text transform="translate(1278.4 1778.2) rotate(45)" y="4.13">30</text>
<text transform="translate(1303.4 1778.2) rotate(45)" y="4.13">31</text>
<text transform="translate(1328.4 1778.2) rotate(45)" y="4.13">32</text>
</g>
<g id="c1">
<text transform="translate(1419.4 390.2) rotate(45)" y="4.13">1</text>
<text transform="translate(1444.4 390.2) rotate(45)" y="4.13">2</text>
<text transform="translate(1469.4 390.2) rotate(45)" y="4.13">3</text>
<text transform="translate(1494.4 390.2) rotate(45)" y="4.13">4</text>
<text transform="translate(1519.4 390.2) rotate(45)" y="4.13">5</text>
<text transform="translate(1544.4 390.2) rotate(45)" y="4.13">6</text>
<text transform="translate(1569.4 390.2) rotate(45)" y="4.13">7</text>
<text transform="translate(1594.4 390.2) rotate(45)" y="4.13">8</text>
<text transform="translate(1619.4 390.2) rotate(45)" y="4.13">9</text>
<text transform="translate(1644.4 390.2) rotate(45)" y="4.13">10</text>
</g>
<g id="c2">
<text transform="translate(1419.4 415.2) rotate(45)" y="4.13">1</text>
<text transform="translate(1444.4 415.2) rotate(45)" y="4.13">2</text>
<text transform="translate(1469.4 415.2) rotate(45)" y="4.13">3</text>
<text transform="translate(1494.4 415.2) rotate(45)" y="4.13">4</text>
<text transform="translate(1519.4 415.2) rotate(45)" y="4.13">5</text>
<text transform="translate(1544.4 415.2) rotate(45)" y="4.13">6</text>
<text transform="translate(1569.4 415.2) rotate(45)" y="4.13">7</text>
<text transform="translate(1594.4 415.2) rotate(45)" y="4.13">8</text>
<text transform="translate(1619.4 415.2) rotate(45)" y="4.13">9</text>
<text transform="translate(1644.4 415.2) rotate(45)" y="4.13">10</text>
</g>
<g id="c3">
<text transform="translate(1419.4 440.2) rotate(45)" y="4.13">1</text>
<text transform="translate(1444.4 440.2) rotate(45)" y="4.13">2</text>
<text transform="translate(1469.4 440.2) rotate(45)" y="4.13">3</text>
<text transform="translate(1494.4 440.2) rotate(45)" y="4.13">4</text>
<text transform="translate(1519.4 440.2) rotate(45)" y="4.13">5</text>
<text transform="translate(1544.4 440.2) rotate(45)" y="4.13">6</text>
<text transform="translate(1569.4 440.2) rotate(45)" y="4.13">7</text>
<text transform="translate(1594.4 440.2) rotate(45)" y="4.13">8</text>
<text transform="translate(1619.4 440.2) rotate(45)" y="4.13">9</text>
<text transform="translate(1644.4 440.2) rotate(45)" y="4.13">10</text>
</g>
<g id="c4">
<text transform="translate(1419.4 465.2) rotate(45)" y="4.13">1</text>
<text transform="translate(1444.4 465.2) rotate(45)" y="4.13">2</text>
<text transform="translate(1469.4 465.2) rotate(45)" y="4.13">3</text>
<text transform="translate(1494.4 465.2) rotate(45)" y="4.13">4</text>
<text transform="translate(1519.4 465.2) rotate(45)" y="4.13">5</text>
<text transform="translate(1544.4 465.2) rotate(45)" y="4.13">6</text>
<text transform="translate(1569.4 465.2) rotate(45)" y="4.13">7</text>
<text transform="translate(1594.4 465.2) rotate(45)" y="4.13">8</text>
<text transform="translate(1619.4 465.2) rotate(45)" y="4.13">9</text>
<text transform="translate(1644.4 465.2) rotate(45)" y="4.13">10</text>
</g>
<g id="c5">
<text transform="translate(1419.4 490.2) rotate(45)" y="4.13">1</text>
<text transform="translate(1444.4 490.2) rotate(45)" y="4.13">2</text>
<text transform="translate(1469.4 490.2) rotate(45)" y="4.13">3</text>
<text transform="translate(1494.4 490.2) rotate(45)" y="4.13">4</text>
<text transform="translate(1519.4 490.2) rotate(45)" y="4.13">5</text>
<text transform="translate(1544.4 490.2) rotate(45)" y="4.13">6</text>
<text transform="translate(1569.4 490.2) rotate(45)" y="4.13">7</text>
<text transform="translate(1594.4 490.2) rotate(45)" y="4.13">8</text>
<text transform="translate(1619.4 490.2) rotate(45)" y="4.13">9</text>
<text transform="translate(1644.4 490.2) rotate(45)" y="4.13">10</text>
</g>
<g id="c6">
<text transform="translate(1419.4 515.2) rotate(45)" y="4.13">1</text>
<text transform="translate(1444.4 515.2) rotate(45)" y="4.13">2</text>
<text transform="translate(1469.4 515.2) rotate(45)" y="4.13">3</text>
<text transform="translate(1494.4 515.2) rotate(45)" y="4.13">4</text>
<text transform="translate(1519.4 515.2) rotate(45)" y="4.13">5</text>
<text transform="translate(1544.4 515.2) rotate(45)" y="4.13">6</text>
<text transform="translate(1569.4 515.2) rotate(45)" y="4.13">7</text>
<text transform="translate(1594.4 515.2) rotate(45)" y="4.13">8</text>
<text transform="translate(1619.4 515.2) rotate(45)" y="4.13">9</text>
<text transform="translate(1644.4 515.2) rotate(45)" y="4.13">10</text>
</g>
<g id="c7">
<text transform="translate(1419.4 540.2) rotate(45)" y="4.13">1</text>
<text transform="translate(1444.4 540.2) rotate(45)" y="4.13">2</text>
<text transform="translate(1469.4 540.2) rotate(45)" y="4.13">3</text>
<text transform="translate(1494.4 540.2) rotate(45)" y="4.13">4</text>
<text transform="translate(1519.4 540.2) rotate(45)" y="4.13">5</text>
<text transform="translate(1544.4 540.2) rotate(45)" y="4.13">6</text>
<text transform="translate(1569.4 540.2) rotate(45)" y="4.13">7</text>
<text transform="translate(1594.4 540.2) rotate(45)" y="4.13">8</text>
<text transform="translate(1619.4 540.2) rotate(45)" y="4.13">9</text>
<text transform="translate(1644.4 540.2) rotate(45)" y="4.13">10</text>
</g>
<g id="c8">
<text transform="translate(1419.4 565.2) rotate(45)" y="4.13">1</text>
<text transform="translate(1444.4 565.2) rotate(45)" y="4.13">2</text>
<text transform="translate(1469.4 565.2) rotate(45)" y="4.13">3</text>
<text transform="translate(1494.4 565.2) rotate(45)" y="4.13">4</text>
<text transform="translate(1519.4 565.2) rotate(45)" y="4.13">5</text>
<text transform="translate(1544.4 565.2) rotate(45)" y="4.13">6</text>
<text transform="translate(1569.4 565.2) rotate(45)" y="4.13">7</text>
<text transform="translate(1594.4 565.2) rotate(45)" y="4.13">8</text>
<text transform="translate(1619.4 565.2) rotate(45)" y="4.13">9</text>
<text transform="translate(1644.4 565.2) rotate(45)" y="4.13">10</text>
</g>
<g id="c9">
<text transform="translate(1419.4 590.2) rotate(45)" y="4.13">1</text>
<text transform="translate(1444.4 590.2) rotate(45)" y="4.13">2</text>
<text transform="translate(1469.4 590.2) rotate(45)" y="4.13">3</text>
<text transform="translate(1494.4 590.2) rotate(45)" y="4.13">4</text>
<text transform="translate(1519.4 590.2) rotate(45)" y="4.13">5</text>
<text transform="translate(1544.4 590.2) rotate(45)" y="4.13">6</text>
<text transform="translate(1569.4 590.2) rotate(45)" y="4.13">7</text>
<text transform="translate(1594.4 590.2) rotate(45)" y="4.13">8</text>
<text transform="translate(1619.4 590.2) rotate(45)" y="4.13">9</text>
<text transform="translate(1644.4 590.2) rotate(45)" y="4.13">10</text>
</g>
<g id="c10">
<text transform="translate(1419.4 615.2) rotate(45)" y="4.13">1</text>
<text transform="translate(1444.4 615.2) rotate(45)" y="4.13">2</text>
<text transform="translate(1469.4 615.2) rotate(45)" y="4.13">3</text>
<text transform="translate(1494.4 615.2) rotate(45)" y="4.13">4</text>
<text transform="translate(1519.4 615.2) rotate(45)" y="4.13">5</text>
<text transform="translate(1544.4 615.2) rotate(45)" y="4.13">6</text>
<text transform="translate(1569.4 615.2) rotate(45)" y="4.13">7</text>
<text transform="translate(1594.4 615.2) rotate(45)" y="4.13">8</text>
<text transform="translate(1619.4 615.2) rotate(45)" y="4.13">9</text>
<text transform="translate(1644.4 615.2) rotate(45)" y="4.13">10</text>
</g>
<g id="c11">
<text transform="translate(1419.4 640.2) rotate(45)" y="4.13">1</text>
<text transform="translate(1444.4 640.2) rotate(45)" y="4.13">2</text>
<text transform="translate(1469.4 640.2) rotate(45)" y="4.13">3</text>
<text transform="translate(1494.4 640.2) rotate(45)" y="4.13">4</text>
<text transform="translate(1519.4 640.2) rotate(45)" y="4.13">5</text>
<text transform="translate(1544.4 640.2) rotate(45)" y="4.13">6</text>
<text transform="translate(1569.4 640.2) rotate(45)" y="4.13">7</text>
<text transform="translate(1594.4 640.2) rotate(45)" y="4.13">8</text>
<text transform="translate(1619.4 640.2) rotate(45)" y="4.13">9</text>
<text transform="translate(1644.4 640.2) rotate(45)" y="4.13">10</text>
</g>
<g id="c12">
<text transform="translate(1419.4 665.2) rotate(45)" y="4.13">1</text>
<text transform="translate(1444.4 665.2) rotate(45)" y="4.13">2</text>
<text transform="translate(1469.4 665.2) rotate(45)" y="4.13">3</text>
<text transform="translate(1494.4 665.2) rotate(45)" y="4.13">4</text>
<text transform="translate(1519.4 665.2) rotate(45)" y="4.13">5</text>
<text transform="translate(1544.4 665.2) rotate(45)" y="4.13">6</text>
<text transform="translate(1569.4 665.2) rotate(45)" y="4.13">7</text>
<text transform="translate(1594.4 665.2) rotate(45)" y="4.13">8</text>
<text transform="translate(1619.4 665.2) rotate(45)" y="4.13">9</text>
<text transform="translate(1644.4 665.2) rotate(45)" y="4.13">10</text>
</g>
<g id="c13">
<text transform="translate(1419.4 720.2) rotate(45)" y="4.13">1</text>
<text transform="translate(1444.4 720.2) rotate(45)" y="4.13">2</text>
<text transform="translate(1469.4 720.2) rotate(45)" y="4.13">3</text>
<text transform="translate(1494.4 720.2) rotate(45)" y="4.13">4</text>
<text transform="translate(1519.4 720.2) rotate(45)" y="4.13">5</text>
<text transform="translate(1544.4 720.2) rotate(45)" y="4.13">6</text>
<text transform="translate(1569.4 720.2) rotate(45)" y="4.13">7</text>
<text transform="translate(1594.4 720.2) rotate(45)" y="4.13">8</text>
<text transform="translate(1619.4 720.2) rotate(45)" y="4.13">9</text>
<text transform="translate(1644.4 720.2) rotate(45)" y="4.13">10</text>
</g>
<g id="c14">
<text transform="translate(1419.4 745.2) rotate(45)" y="4.13">1</text>
<text transform="translate(1444.4 745.2) rotate(45)" y="4.13">2</text>
<text transform="translate(1469.4 745.2) rotate(45)" y="4.13">3</text>
<text transform="translate(1494.4 745.2) rotate(45)" y="4.13">4</text>
<text transform="translate(1519.4 745.2) rotate(45)" y="4.13">5</text>
<text transform="translate(1544.4 745.2) rotate(45)" y="4.13">6</text>
<text transform="translate(1569.4 745.2) rotate(45)" y="4.13">7</text>
<text transform="translate(1594.4 745.2) rotate(45)" y="4.13">8</text>
<text transform="translate(1619.4 745.2) rotate(45)" y="4.13">9</text>
<text transform="translate(1644.4 745.2) rotate(45)" y="4.13">10</text>
</g>
<g id="c15">
<text transform="translate(1419.4 770.2) rotate(45)" y="4.13">1</text>
<text transform="translate(1444.4 770.2) rotate(45)" y="4.13">2</text>
<text transform="translate(1469.4 770.2) rotate(45)" y="4.13">3</text>
<text transform="translate(1494.4 770.2) rotate(45)" y="4.13">4</text>
<text transform="translate(1519.4 770.2) rotate(45)" y="4.13">5</text>
<text transform="translate(1544.4 770.2) rotate(45)" y="4.13">6</text>
<text transform="translate(1569.4 770.2) rotate(45)" y="4.13">7</text>
<text transform="translate(1594.4 770.2) rotate(45)" y="4.13">8</text>
<text transform="translate(1619.4 770.2) rotate(45)" y="4.13">9</text>
<text transform="translate(1644.4 770.2) rotate(45)" y="4.13">10</text>
</g>
<g id="c16">
<text transform="translate(1419.4 795.2) rotate(45)" y="4.13">1</text>
<text transform="translate(1444.4 795.2) rotate(45)" y="4.13">2</text>
<text transform="translate(1469.4 795.2) rotate(45)" y="4.13">3</text>
<text transform="translate(1494.4 795.2) rotate(45)" y="4.13">4</text>
<text transform="translate(1519.4 795.2) rotate(45)" y="4.13">5</text>
<text transform="translate(1544.4 795.2) rotate(45)" y="4.13">6</text>
<text transform="translate(1569.4 795.2) rotate(45)" y="4.13">7</text>
<text transform="translate(1594.4 795.2) rotate(45)" y="4.13">8</text>
<text transform="translate(1619.4 795.2) rotate(45)" y="4.13">9</text>
<text transform="translate(1644.4 795.2) rotate(45)" y="4.13">10</text>
</g>
<g id="c17">
<text transform="translate(1419.4 820.2) rotate(45)" y="4.13">1</text>
<text transform="translate(1444.4 820.2) rotate(45)" y="4.13">2</text>
<text transform="translate(1469.4 820.2) rotate(45)" y="4.13">3</text>
<text transform="translate(1494.4 820.2) rotate(45)" y="4.13">4</text>
<text transform="translate(1519.4 820.2) rotate(45)" y="4.13">5</text>
<text transform="translate(1544.4 820.2) rotate(45)" y="4.13">6</text>
<text transform="translate(1569.4 820.2) rotate(45)" y="4.13">7</text>
<text transform="translate(1594.4 820.2) rotate(45)" y="4.13">8</text>
<text transform="translate(1619.4 820.2) rotate(45)" y="4.13">9</text>
<text transform="translate(1644.4 820.2) rotate(45)" y="4.13">10</text>
</g>
<g id="c18">
<text transform="translate(1419.4 845.2) rotate(45)" y="4.13">1</text>
<text transform="translate(1444.4 845.2) rotate(45)" y="4.13">2</text>
<text transform="translate(1469.4 845.2) rotate(45)" y="4.13">3</text>
<text transform="translate(1494.4 845.2) rotate(45)" y="4.13">4</text>
<text transform="translate(1519.4 845.2) rotate(45)" y="4.13">5</text>
<text transform="translate(1544.4 845.2) rotate(45)" y="4.13">6</text>
<text transform="translate(1569.4 845.2) rotate(45)" y="4.13">7</text>
<text transform="translate(1594.4 845.2) rotate(45)" y="4.13">8</text>
<text transform="translate(1619.4 845.2) rotate(45)" y="4.13">9</text>
<text transform="translate(1644.4 845.2) rotate(45)" y="4.13">10</text>
</g>
<g id="c19">
<text transform="translate(1420.4 923.2) rotate(45)" y="4.13">1</text>
<text transform="translate(1445.4 923.2) rotate(45)" y="4.13">2</text>
<text transform="translate(1470.4 923.2) rotate(45)" y="4.13">3</text>
<text transform="translate(1495.4 923.2) rotate(45)" y="4.13">4</text>
<text transform="translate(1520.4 923.2) rotate(45)" y="4.13">5</text>
<text transform="translate(1545.4 923.2) rotate(45)" y="4.13">6</text>
<text transform="translate(1570.4 923.2) rotate(45)" y="4.13">7</text>
<text transform="translate(1595.4 923.2) rotate(45)" y="4.13">8</text>
<text transform="translate(1620.4 923.2) rotate(45)" y="4.13">9</text>
<text transform="translate(1645.4 923.2) rotate(45)" y="4.13">10</text>
</g>
<g id="c20">
<text transform="translate(1420.4 948.2) rotate(45)" y="4.13">1</text>
<text transform="translate(1445.4 948.2) rotate(45)" y="4.13">2</text>
<text transform="translate(1470.4 948.2) rotate(45)" y="4.13">3</text>
<text transform="translate(1495.4 948.2) rotate(45)" y="4.13">4</text>
<text transform="translate(1520.4 948.2) rotate(45)" y="4.13">5</text>
<text transform="translate(1545.4 948.2) rotate(45)" y="4.13">6</text>
<text transform="translate(1570.4 948.2) rotate(45)" y="4.13">7</text>
<text transform="translate(1595.4 948.2) rotate(45)" y="4.13">8</text>
<text transform="translate(1620.4 948.2) rotate(45)" y="4.13">9</text>
<text transform="translate(1645.4 948.2) rotate(45)" y="4.13">10</text>
</g>
<g id="c21">
<text transform="translate(1420.4 973.2) rotate(45)" y="4.13">1</text>
<text transform="translate(1445.4 973.2) rotate(45)" y="4.13">2</text>
<text transform="translate(1470.4 973.2) rotate(45)" y="4.13">3</text>
<text transform="translate(1495.4 973.2) rotate(45)" y="4.13">4</text>
<text transform="translate(1520.4 973.2) rotate(45)" y="4.13">5</text>
<text transform="translate(1545.4 973.2) rotate(45)" y="4.13">6</text>
<text transform="translate(1570.4 973.2) rotate(45)" y="4.13">7</text>
<text transform="translate(1595.4 973.2) rotate(45)" y="4.13">8</text>
<text transform="translate(1620.4 973.2) rotate(45)" y="4.13">9</text>
<text transform="translate(1645.4 973.2) rotate(45)" y="4.13">10</text>
</g>
<g id="c22">
<text transform="translate(1420.4 998.2) rotate(45)" y="4.13">1</text>
<text transform="translate(1445.4 998.2) rotate(45)" y="4.13">2</text>
<text transform="translate(1470.4 998.2) rotate(45)" y="4.13">3</text>
<text transform="translate(1495.4 998.2) rotate(45)" y="4.13">4</text>
<text transform="translate(1520.4 998.2) rotate(45)" y="4.13">5</text>
<text transform="translate(1545.4 998.2) rotate(45)" y="4.13">6</text>
<text transform="translate(1570.4 998.2) rotate(45)" y="4.13">7</text>
<text transform="translate(1595.4 998.2) rotate(45)" y="4.13">8</text>
<text transform="translate(1620.4 998.2) rotate(45)" y="4.13">9</text>
<text transform="translate(1645.4 998.2) rotate(45)" y="4.13">10</text>
</g>
<g id="c23">
<text transform="translate(1420.4 1023.2) rotate(45)" y="4.13">1</text>
<text transform="translate(1445.4 1023.2) rotate(45)" y="4.13">2</text>
<text transform="translate(1470.4 1023.2) rotate(45)" y="4.13">3</text>
<text transform="translate(1495.4 1023.2) rotate(45)" y="4.13">4</text>
<text transform="translate(1520.4 1023.2) rotate(45)" y="4.13">5</text>
<text transform="translate(1545.4 1023.2) rotate(45)" y="4.13">6</text>
<text transform="translate(1570.4 1023.2) rotate(45)" y="4.13">7</text>
<text transform="translate(1595.4 1023.2) rotate(45)" y="4.13">8</text>
<text transform="translate(1620.4 1023.2) rotate(45)" y="4.13">9</text>
<text transform="translate(1645.4 1023.2) rotate(45)" y="4.13">10</text>
</g>
<g id="c24">
<text transform="translate(1420.4 1048.2) rotate(45)" y="4.13">1</text>
<text transform="translate(1445.4 1048.2) rotate(45)" y="4.13">2</text>
<text transform="translate(1470.4 1048.2) rotate(45)" y="4.13">3</text>
<text transform="translate(1495.4 1048.2) rotate(45)" y="4.13">4</text>
<text transform="translate(1520.4 1048.2) rotate(45)" y="4.13">5</text>
<text transform="translate(1545.4 1048.2) rotate(45)" y="4.13">6</text>
<text transform="translate(1570.4 1048.2) rotate(45)" y="4.13">7</text>
<text transform="translate(1595.4 1048.2) rotate(45)" y="4.13">8</text>
<text transform="translate(1620.4 1048.2) rotate(45)" y="4.13">9</text>
<text transform="translate(1645.4 1048.2) rotate(45)" y="4.13">10</text>
</g>
<g id="c25">
<text transform="translate(1420.4 1073.2) rotate(45)" y="4.13">1</text>
<text transform="translate(1445.4 1073.2) rotate(45)" y="4.13">2</text>
<text transform="translate(1470.4 1073.2) rotate(45)" y="4.13">3</text>
<text transform="translate(1495.4 1073.2) rotate(45)" y="4.13">4</text>
<text transform="translate(1520.4 1073.2) rotate(45)" y="4.13">5</text>
<text transform="translate(1545.4 1073.2) rotate(45)" y="4.13">6</text>
<text transform="translate(1570.4 1073.2) rotate(45)" y="4.13">7</text>
<text transform="translate(1595.4 1073.2) rotate(45)" y="4.13">8</text>
<text transform="translate(1620.4 1073.2) rotate(45)" y="4.13">9</text>
<text transform="translate(1645.4 1073.2) rotate(45)" y="4.13">10</text>
</g>
<g id="c26">
<text transform="translate(1420.4 1098.2) rotate(45)" y="4.13">1</text>
<text transform="translate(1445.4 1098.2) rotate(45)" y="4.13">2</text>
<text transform="translate(1470.4 1098.2) rotate(45)" y="4.13">3</text>
<text transform="translate(1495.4 1098.2) rotate(45)" y="4.13">4</text>
<text transform="translate(1520.4 1098.2) rotate(45)" y="4.13">5</text>
<text transform="translate(1545.4 1098.2) rotate(45)" y="4.13">6</text>
<text transform="translate(1570.4 1098.2) rotate(45)" y="4.13">7</text>
<text transform="translate(1595.4 1098.2) rotate(45)" y="4.13">8</text>
<text transform="translate(1620.4 1098.2) rotate(45)" y="4.13">9</text>
<text transform="translate(1645.4 1098.2) rotate(45)" y="4.13">10</text>
</g>
<g id="c27">
<text transform="translate(1420.4 1123.2) rotate(45)" y="4.13">1</text>
<text transform="translate(1445.4 1123.2) rotate(45)" y="4.13">2</text>
<text transform="translate(1470.4 1123.2) rotate(45)" y="4.13">3</text>
<text transform="translate(1495.4 1123.2) rotate(45)" y="4.13">4</text>
<text transform="translate(1520.4 1123.2) rotate(45)" y="4.13">5</text>
<text transform="translate(1545.4 1123.2) rotate(45)" y="4.13">6</text>
<text transform="translate(1570.4 1123.2) rotate(45)" y="4.13">7</text>
<text transform="translate(1595.4 1123.2) rotate(45)" y="4.13">8</text>
<text transform="translate(1620.4 1123.2) rotate(45)" y="4.13">9</text>
<text transform="translate(1645.4 1123.2) rotate(45)" y="4.13">10</text>
</g>
<g id="c28">
<text transform="translate(1420.4 1148.2) rotate(45)" y="4.13">1</text>
<text transform="translate(1445.4 1148.2) rotate(45)" y="4.13">2</text>
<text transform="translate(1470.4 1148.2) rotate(45)" y="4.13">3</text>
<text transform="translate(1495.4 1148.2) rotate(45)" y="4.13">4</text>
<text transform="translate(1520.4 1148.2) rotate(45)" y="4.13">5</text>
<text transform="translate(1545.4 1148.2) rotate(45)" y="4.13">6</text>
<text transform="translate(1570.4 1148.2) rotate(45)" y="4.13">7</text>
<text transform="translate(1595.4 1148.2) rotate(45)" y="4.13">8</text>
<text transform="translate(1620.4 1148.2) rotate(45)" y="4.13">9</text>
<text transform="translate(1645.4 1148.2) rotate(45)" y="4.13">10</text>
</g>
<g id="c29">
<text transform="translate(1420.4 1173.2) rotate(45)" y="4.13">1</text>
<text transform="translate(1445.4 1173.2) rotate(45)" y="4.13">2</text>
<text transform="translate(1470.4 1173.2) rotate(45)" y="4.13">3</text>
<text transform="translate(1495.4 1173.2) rotate(45)" y="4.13">4</text>
<text transform="translate(1520.4 1173.2) rotate(45)" y="4.13">5</text>
<text transform="translate(1545.4 1173.2) rotate(45)" y="4.13">6</text>
<text transform="translate(1570.4 1173.2) rotate(45)" y="4.13">7</text>
<text transform="translate(1595.4 1173.2) rotate(45)" y="4.13">8</text>
<text transform="translate(1620.4 1173.2) rotate(45)" y="4.13">9</text>
<text transform="translate(1645.4 1173.2) rotate(45)" y="4.13">10</text>
</g>
<g id="c30">
<text transform="translate(1420.4 1198.2) rotate(45)" y="4.13">1</text>
<text transform="translate(1445.4 1198.2) rotate(45)" y="4.13">2</text>
<text transform="translate(1470.4 1198.2) rotate(45)" y="4.13">3</text>
<text transform="translate(1495.4 1198.2) rotate(45)" y="4.13">4</text>
<text transform="translate(1520.4 1198.2) rotate(45)" y="4.13">5</text>
<text transform="translate(1545.4 1198.2) rotate(45)" y="4.13">6</text>
<text transform="translate(1570.4 1198.2) rotate(45)" y="4.13">7</text>
<text transform="translate(1595.4 1198.2) rotate(45)" y="4.13">8</text>
<text transform="translate(1620.4 1198.2) rotate(45)" y="4.13">9</text>
<text transform="translate(1645.4 1198.2) rotate(45)" y="4.13">10</text>
</g>
<g id="c31">
<text transform="translate(1420.4 1253.2) rotate(45)" y="4.13">1</text>
<text transform="translate(1445.4 1253.2) rotate(45)" y="4.13">2</text>
<text transform="translate(1470.4 1253.2) rotate(45)" y="4.13">3</text>
<text transform="translate(1495.4 1253.2) rotate(45)" y="4.13">4</text>
<text transform="translate(1520.4 1253.2) rotate(45)" y="4.13">5</text>
<text transform="translate(1545.4 1253.2) rotate(45)" y="4.13">6</text>
<text transform="translate(1570.4 1253.2) rotate(45)" y="4.13">7</text>
<text transform="translate(1595.4 1253.2) rotate(45)" y="4.13">8</text>
<text transform="translate(1620.4 1253.2) rotate(45)" y="4.13">9</text>
<text transform="translate(1645.4 1253.2) rotate(45)" y="4.13">10</text>
</g>
<g id="c32">
<text transform="translate(1420.4 1278.2) rotate(45)" y="4.13">1</text>
<text transform="translate(1445.4 1278.2) rotate(45)" y="4.13">2</text>
<text transform="translate(1470.4 1278.2) rotate(45)" y="4.13">3</text>
<text transform="translate(1495.4 1278.2) rotate(45)" y="4.13">4</text>
<text transform="translate(1520.4 1278.2) rotate(45)" y="4.13">5</text>
<text transform="translate(1545.4 1278.2) rotate(45)" y="4.13">6</text>
<text transform="translate(1570.4 1278.2) rotate(45)" y="4.13">7</text>
<text transform="translate(1595.4 1278.2) rotate(45)" y="4.13">8</text>
<text transform="translate(1620.4 1278.2) rotate(45)" y="4.13">9</text>
<text transform="translate(1645.4 1278.2) rotate(45)" y="4.13">10</text>
</g>
<g id="c33">
<text transform="translate(1420.4 1303.2) rotate(45)" y="4.13">1</text>
<text transform="translate(1445.4 1303.2) rotate(45)" y="4.13">2</text>
<text transform="translate(1470.4 1303.2) rotate(45)" y="4.13">3</text>
<text transform="translate(1495.4 1303.2) rotate(45)" y="4.13">4</text>
<text transform="translate(1520.4 1303.2) rotate(45)" y="4.13">5</text>
<text transform="translate(1545.4 1303.2) rotate(45)" y="4.13">6</text>
<text transform="translate(1570.4 1303.2) rotate(45)" y="4.13">7</text>
<text transform="translate(1595.4 1303.2) rotate(45)" y="4.13">8</text>
<text transform="translate(1620.4 1303.2) rotate(45)" y="4.13">9</text>
<text transform="translate(1645.4 1303.2) rotate(45)" y="4.13">10</text>
</g>
<g id="c34">
<text transform="translate(1420.4 1328.2) rotate(45)" y="4.13">1</text>
<text transform="translate(1445.4 1328.2) rotate(45)" y="4.13">2</text>
<text transform="translate(1470.4 1328.2) rotate(45)" y="4.13">3</text>
<text transform="translate(1495.4 1328.2) rotate(45)" y="4.13">4</text>
<text transform="translate(1520.4 1328.2) rotate(45)" y="4.13">5</text>
<text transform="translate(1545.4 1328.2) rotate(45)" y="4.13">6</text>
<text transform="translate(1570.4 1328.2) rotate(45)" y="4.13">7</text>
<text transform="translate(1595.4 1328.2) rotate(45)" y="4.13">8</text>
<text transform="translate(1620.4 1328.2) rotate(45)" y="4.13">9</text>
<text transform="translate(1645.4 1328.2) rotate(45)" y="4.13">10</text>
</g>
<g id="c35">
<text transform="translate(1420.4 1353.2) rotate(45)" y="4.13">1</text>
<text transform="translate(1445.4 1353.2) rotate(45)" y="4.13">2</text>
<text transform="translate(1470.4 1353.2) rotate(45)" y="4.13">3</text>
<text transform="translate(1495.4 1353.2) rotate(45)" y="4.13">4</text>
<text transform="translate(1520.4 1353.2) rotate(45)" y="4.13">5</text>
<text transform="translate(1545.4 1353.2) rotate(45)" y="4.13">6</text>
<text transform="translate(1570.4 1353.2) rotate(45)" y="4.13">7</text>
<text transform="translate(1595.4 1353.2) rotate(45)" y="4.13">8</text>
<text transform="translate(1620.4 1353.2) rotate(45)" y="4.13">9</text>
<text transform="translate(1645.4 1353.2) rotate(45)" y="4.13">10</text>
</g>
<g id="c36">
<text transform="translate(1420.4 1378.2) rotate(45)" y="4.13">1</text>
<text transform="translate(1445.4 1378.2) rotate(45)" y="4.13">2</text>
<text transform="translate(1470.4 1378.2) rotate(45)" y="4.13">3</text>
<text transform="translate(1495.4 1378.2) rotate(45)" y="4.13">4</text>
<text transform="translate(1520.4 1378.2) rotate(45)" y="4.13">5</text>
<text transform="translate(1545.4 1378.2) rotate(45)" y="4.13">6</text>
<text transform="translate(1570.4 1378.2) rotate(45)" y="4.13">7</text>
<text transform="translate(1595.4 1378.2) rotate(45)" y="4.13">8</text>
<text transform="translate(1620.4 1378.2) rotate(45)" y="4.13">9</text>
<text transform="translate(1645.4 1378.2) rotate(45)" y="4.13">10</text>
</g>
</g>
<path id="lines" class="ln" d="M481 265l14-14M506 265l14-14M531 265l14-14M556 265l14-14M581 265l14-14M606 265l14-14M631 265l14-14M656 265l14-14M681 265l14-14M706 265l14-14M731 265l14-14M756 265l14-14M781 265l14-14M806 265l14-14M831 265l14-14M856 265l14-14M881 265l14-14M906 265l14-14M931 265l14-14M956 265l14-14M981 265l14-14M1006 265l14-14M1031 265l14-14M1056 265l14-14M1141 265l14-14M1166 265l14-14M1191 265l14-14M1216 265l14-14M1241 265l14-14M1266 265l14-14M1291 265l14-14M1316 265l14-14M481 310l14-14M506 310l14-14M531 310l14-14M556 310l14-14M581 310l14-14M606 310l14-14M631 310l14-14M656 310l14-14M681 310l14-14M706 310l14-14M731 310l14-14M756 310l14-14M781 310l14-14M806 310l14-14M831 310l14-14M856 310l14-14M881 310l14-14M906 310l14-14M931 310l14-14M956 310l14-14M981 310l14-14M1006 310l14-14M1031 310l14-14M1056 310l14-14M1141 310l14-14M1166 310l14-14M1191 310l14-14M1216 310l14-14M1241 310l14-14M1266 310l14-14M1291 310l14-14M1316 310l14-14M481 355l14-14M506 355l14-14M531 355l14-14M556 355l14-14M581 355l14-14M606 355l14-14M631 355l14-14M656 355l14-14M681 355l14-14M706 355l14-14M731 355l14-14M756 355l14-14M781 355l14-14M806 355l14-14M831 355l14-14M856 355l14-14M881 355l14-14M906 355l14-14M931 355l14-14M956 355l14-14M981 355l14-14M1006 355l14-14M1031 355l14-14M1056 355l14-14M1141 355l14-14M1166 355l14-14M1191 355l14-14M1216 355l14-14M1241 355l14-14M1266 355l14-14M1291 355l14-14M1316 355l14-14M481 400l14-14M506 400l14-14M531 400l14-14M556 400l14-14M581 400l14-14M606 400l14-14M631 400l14-14M656 400l14-14M681 400l14-14M706 400l14-14M731 400l14-14M756 400l14-14M781 400l14-14M806 400l14-14M831 400l14-14M856 400l14-14M881 400l14-14M906 400l14-14M931 400l14-14M956 400l14-14M981 400l14-14M1006 400l14-14M1031 400l14-14M1056 400l14-14M1141 400l14-14M1166 400l14-14M1191 400l14-14M1216 400l14-14M1241 400l14-14M1266 400l14-14M1291 400l14-14M1316 400l14-14M481 445l14-14M506 445l14-14M531 445l14-14M556 445l14-14M581 445l14-14M606 445l14-14M631 445l14-14M656 445l14-14M681 445l14-14M706 445l14-14M731 445l14-14M756 445l14-14M781 445l14-14M806 445l14-14M831 445l14-14M856 445l14-14M881 445l14-14M906 445l14-14M931 445l14-14M956 445l14-14M981 445l14-14M1006 445l14-14M1031 445l14-14M1056 445l14-14M1141 445l14-14M1166 445l14-14M1191 445l14-14M1216 445l14-14M1241 445l14-14M1266 445l14-14M1291 445l14-14M1316 445l14-14M481 490l14-14M506 490l14-14M531 490l14-14M556 490l14-14M581 490l14-14M606 490l14-14M631 490l14-14M656 490l14-14M681 490l14-14M706 490l14-14M731 490l14-14M756 490l14-14M781 490l14-14M806 490l14-14M831 490l14-14M856 490l14-14M881 490l14-14M906 490l14-14M931 490l14-14M956 490l14-14M981 490l14-14M1006 490l14-14M1031 490l14-14M1056 490l14-14M1141 490l14-14M1166 490l14-14M1191 490l14-14M1216 490l14-14M1241 490l14-14M1266 490l14-14M1291 490l14-14M1316 490l14-14M481 535l14-14M506 535l14-14M531 535l14-14M556 535l14-14M581 535l14-14M606 535l14-14M631 535l14-14M656 535l14-14M681 535l14-14M706 535l14-14M731 535l14-14M756 535l14-14M781 535l14-14M806 535l14-14M831 535l14-14M856 535l14-14M881 535l14-14M906 535l14-14M931 535l14-14M956 535l14-14M981 535l14-14M1006 535l14-14M1031 535l14-14M1056 535l14-14M1141 535l14-14M1166 535l14-14M1191 535l14-14M1216 535l14-14M1241 535l14-14M1266 535l14-14M1291 535l14-14M1316 535l14-14M481 580l14-14M506 580l14-14M531 580l14-14M556 580l14-14M581 580l14-14M606 580l14-14M631 580l14-14M656 580l14-14M681 580l14-14M706 580l14-14M731 580l14-14M756 580l14-14M781 580l14-14M806 580l14-14M831 580l14-14M856 580l14-14M881 580l14-14M906 580l14-14M931 580l14-14M956 580l14-14M981 580l14-14M1006 580l14-14M1031 580l14-14M1056 580l14-14M1141 580l14-14M1166 580l14-14M1191 580l14-14M1216 580l14-14M1241 580l14-14M1266 580l14-14M1291 580l14-14M1316 580l14-14M481 625l14-14M506 625l14-14M531 625l14-14M556 625l14-14M581 625l14-14M606 625l14-14M631 625l14-14M656 625l14-14M681 625l14-14M706 625l14-14M731 625l14-14M756 625l14-14M781 625l14-14M806 625l14-14M831 625l14-14M856 625l14-14M881 625l14-14M906 625l14-14M931 625l14-14M956 625l14-14M981 625l14-14M1006 625l14-14M1031 625l14-14M1056 625l14-14M1141 625l14-14M1166 625l14-14M1191 625l14-14M1216 625l14-14M1241 625l14-14M1266 625l14-14M1291 625l14-14M1316 625l14-14M481 670l14-14M506 670l14-14M531 670l14-14M556 670l14-14M581 670l14-14M606 670l14-14M631 670l14-14M656 670l14-14M681 670l14-14M706 670l14-14M731 670l14-14M756 670l14-14M781 670l14-14M806 670l14-14M831 670l14-14M856 670l14-14M881 670l14-14M906 670l14-14M931 670l14-14M956 670l14-14M981 670l14-14M1006 670l14-14M1031 670l14-14M1056 670l14-14M1141 670l14-14M1166 670l14-14M1191 670l14-14M1216 670l14-14M1241 670l14-14M1266 670l14-14M1291 670l14-14M1316 670l14-14M481 715l14-14M506 715l14-14M531 715l14-14M556 715l14-14M581 715l14-14M606 715l14-14M631 715l14-14M656 715l14-14M681 715l14-14M706 715l14-14M731 715l14-14M756 715l14-14M781 715l14-14M806 715l14-14M831 715l14-14M856 715l14-14M881 715l14-14M906 715l14-14M931 715l14-14M956 715l14-14M981 715l14-14M1006 715l14-14M1031 715l14-14M1056 715l14-14M1141 715l14-14M1166 715l14-14M1191 715l14-14M1216 715l14-14M1241 715l14-14M1266 715l14-14M1291 715l14-14M1316 715l14-14M481 760l14-14M506 760l14-14M531 760l14-14M556 760l14-14M581 760l14-14M606 760l14-14M631 760l14-14M656 760l14-14M681 760l14-14M706 760l14-14M731 760l14-14M756 760l14-14M781 760l14-14M806 760l14-14M831 760l14-14M856 760l14-14M881 760l14-14M906 760l14-14M931 760l14-14M956 760l14-14M981 760l14-14M1006 760l14-14M1031 760l14-14M1056 760l14-14M1141 760l14-14M1166 760l14-14M1191 760l14-14M1216 760l14-14M1241 760l14-14M1266 760l14-14M1291 760l14-14M1316 760l14-14M481 805l14-14M506 805l14-14M531 805l14-14M556 805l14-14M581 805l14-14M606 805l14-14M631 805l14-14M656 805l14-14M681 805l14-14M706 805l14-14M731 805l14-14M756 805l14-14M781 805l14-14M806 805l14-14M831 805l14-14M856 805l14-14M881 805l14-14M906 805l14-14M931 805l14-14M956 805l14-14M981 805l14-14M1006 805l14-14M1031 805l14-14M1056 805l14-14M1141 805l14-14M1166 805l14-14M1191 805l14-14M1216 805l14-14M1241 805l14-14M1266 805l14-14M1291 805l14-14M1316 805l14-14M481 850l14-14M506 850l14-14M531 850l14-14M556 850l14-14M581 850l14-14M606 850l14-14M631 850l14-14M656 850l14-14M681 850l14-14M706 850l14-14M731 850l14-14M756 850l14-14M781 850l14-14M806 850l14-14M831 850l14-14M856 850l14-14M881 850l14-14M906 850l14-14M931 850l14-14M956 850l14-14M981 850l14-14M1006 850l14-14M1031 850l14-14M1056 850l14-14M1141 850l14-14M1166 850l14-14M1191 850l14-14M1216 850l14-14M1241 850l14-14M1266 850l14-14M1291 850l14-14M1316 850l14-14M481 925l14-14M506 925l14-14M531 925l14-14M556 925l14-14M581 925l14-14M606 925l14-14M631 925l14-14M656 925l14-14M681 925l14-14M706 925l14-14M731 925l14-14M756 925l14-14M781 925l14-14M806 925l14-14M831 925l14-14M856 925l14-14M881 925l14-14M906 925l14-14M931 925l14-14M956 925l14-14M981 925l14-14M1006 925l14-14M1031 925l14-14M1056 925l14-14M1141 925l14-14M1166 925l14-14M1191 925l14-14M1216 925l14-14M1241 925l14-14M1266 925l14-14M1291 925l14-14M1316 925l14-14M481 970l14-14M506 970l14-14M531 970l14-14M556 970l14-14M581 970l14-14M606 970l14-14M631 970l14-14M656 970l14-14M681 970l14-14M706 970l14-14M731 970l14-14M756 970l14-14M781 970l14-14M806 970l14-14M831 970l14-14M856 970l14-14M881 970l14-14M906 970l14-14M931 970l14-14M956 970l14-14M981 970l14-14M1006 970l14-14M1031 970l14-14M1056 970l14-14M1141 970l14-14M1166 970l14-14M1191 970l14-14M1216 970l14-14M1241 970l14-14M1266 970l14-14M1291 970l14-14M1316 970l14-14M481 1015l14-14M506 1015l14-14M531 1015l14-14M556 1015l14-14M581 1015l14-14M606 1015l14-14M631 1015l14-14M656 1015l14-14M681 1015l14-14M706 1015l14-14M731 1015l14-14M756 1015l14-14M781 1015l14-14M806 1015l14-14M831 1015l14-14M856 1015l14-14M881 1015l14-14M906 1015l14-14M931 1015l14-14M956 1015l14-14M981 1015l14-14M1006 1015l14-14M1031 1015l14-14M1056 1015l14-14M1141 1015l14-14M1166 1015l14-14M1191 1015l14-14M1216 1015l14-14M1241 1015l14-14M1266 1015l14-14M1291 1015l14-14M1316 1015l14-14M481 1060l14-14M506 1060l14-14M531 1060l14-14M556 1060l14-14M581 1060l14-14M606 1060l14-14M631 1060l14-14M656 1060l14-14M681 1060l14-14M706 1060l14-14M731 1060l14-14M756 1060l14-14M781 1060l14-14M806 1060l14-14M831 1060l14-14M856 1060l14-14M881 1060l14-14M906 1060l14-14M931 1060l14-14M956 1060l14-14M981 1060l14-14M1006 1060l14-14M1031 1060l14-14M1056 1060l14-14M1141 1060l14-14M1166 1060l14-14M1191 1060l14-14M1216 1060l14-14M1241 1060l14-14M1266 1060l14-14M1291 1060l14-14M1316 1060l14-14M481 1105l14-14M506 1105l14-14M531 1105l14-14M556 1105l14-14M581 1105l14-14M606 1105l14-14M631 1105l14-14M656 1105l14-14M681 1105l14-14M706 1105l14-14M731 1105l14-14M756 1105l14-14M781 1105l14-14M806 1105l14-14M831 1105l14-14M856 1105l14-14M881 1105l14-14M906 1105l14-14M931 1105l14-14M956 1105l14-14M981 1105l14-14M1006 1105l14-14M1031 1105l14-14M1056 1105l14-14M1141 1105l14-14M1166 1105l14-14M1191 1105l14-14M1216 1105l14-14M1241 1105l14-14M1266 1105l14-14M1291 1105l14-14M1316 1105l14-14M481 1150l14-14M506 1150l14-14M531 1150l14-14M556 1150l14-14M581 1150l14-14M606 1150l14-14M631 1150l14-14M656 1150l14-14M681 1150l14-14M706 1150l14-14M731 1150l14-14M756 1150l14-14M781 1150l14-14M806 1150l14-14M831 1150l14-14M856 1150l14-14M881 1150l14-14M906 1150l14-14M931 1150l14-14M956 1150l14-14M981 1150l14-14M1006 1150l14-14M1031 1150l14-14M1056 1150l14-14M1141 1150l14-14M1166 1150l14-14M1191 1150l14-14M1216 1150l14-14M1241 1150l14-14M1266 1150l14-14M1291 1150l14-14M1316 1150l14-14M481 1195l14-14M506 1195l14-14M531 1195l14-14M556 1195l14-14M581 1195l14-14M606 1195l14-14M631 1195l14-14M656 1195l14-14M681 1195l14-14M706 1195l14-14M731 1195l14-14M756 1195l14-14M781 1195l14-14M806 1195l14-14M831 1195l14-14M856 1195l14-14M881 1195l14-14M906 1195l14-14M931 1195l14-14M956 1195l14-14M981 1195l14-14M1006 1195l14-14M1031 1195l14-14M1056 1195l14-14M1141 1195l14-14M1166 1195l14-14M1191 1195l14-14M1216 1195l14-14M1241 1195l14-14M1266 1195l14-14M1291 1195l14-14M1316 1195l14-14M481 1240l14-14M506 1240l14-14M531 1240l14-14M556 1240l14-14M581 1240l14-14M606 1240l14-14M631 1240l14-14M656 1240l14-14M681 1240l14-14M706 1240l14-14M731 1240l14-14M756 1240l14-14M781 1240l14-14M806 1240l14-14M831 1240l14-14M856 1240l14-14M881 1240l14-14M906 1240l14-14M931 1240l14-14M956 1240l14-14M981 1240l14-14M1006 1240l14-14M1031 1240l14-14M1056 1240l14-14M1141 1240l14-14M1166 1240l14-14M1191 1240l14-14M1216 1240l14-14M1241 1240l14-14M1266 1240l14-14M1291 1240l14-14M1316 1240l14-14M481 1285l14-14M506 1285l14-14M531 1285l14-14M556 1285l14-14M581 1285l14-14M606 1285l14-14M631 1285l14-14M656 1285l14-14M681 1285l14-14M706 1285l14-14M731 1285l14-14M756 1285l14-14M781 1285l14-14M806 1285l14-14M831 1285l14-14M856 1285l14-14M881 1285l14-14M906 1285l14-14M931 1285l14-14M956 1285l14-14M981 1285l14-14M1006 1285l14-14M1031 1285l14-14M1056 1285l14-14M1141 1285l14-14M1166 1285l14-14M1191 1285l14-14M1216 1285l14-14M1241 1285l14-14M1266 1285l14-14M1291 1285l14-14M1316 1285l14-14M481 1330l14-14M506 1330l14-14M531 1330l14-14M556 1330l14-14M581 1330l14-14M606 1330l14-14M631 1330l14-14M656 1330l14-14M681 1330l14-14M706 1330l14-14M731 1330l14-14M756 1330l14-14M781 1330l14-14M806 1330l14-14M831 1330l14-14M856 1330l14-14M881 1330l14-14M906 1330l14-14M931 1330l14-14M956 1330l14-14M981 1330l14-14M1006 1330l14-14M1031 1330l14-14M1056 1330l14-14M1141 1330l14-14M1166 1330l14-14M1191 1330l14-14M1216 1330l14-14M1241 1330l14-14M1266 1330l14-14M1291 1330l14-14M1316 1330l14-14M481 1375l14-14M506 1375l14-14M531 1375l14-14M556 1375l14-14M581 1375l14-14M606 1375l14-14M631 1375l14-14M656 1375l14-14M681 1375l14-14M706 1375l14-14M731 1375l14-14M756 1375l14-14M781 1375l14-14M806 1375l14-14M831 1375l14-14M856 1375l14-14M881 1375l14-14M906 1375l14-14M931 1375l14-14M956 1375l14-14M981 1375l14-14M1006 1375l14-14M1031 1375l14-14M1056 1375l14-14M1141 1375l14-14M1166 1375l14-14M1191 1375l14-14M1216 1375l14-14M1241 1375l14-14M1266 1375l14-14M1291 1375l14-14M1316 1375l14-14M481 1420l14-14M506 1420l14-14M531 1420l14-14M556 1420l14-14M581 1420l14-14M606 1420l14-14M631 1420l14-14M656 1420l14-14M681 1420l14-14M706 1420l14-14M731 1420l14-14M756 1420l14-14M781 1420l14-14M806 1420l14-14M831 1420l14-14M856 1420l14-14M881 1420l14-14M906 1420l14-14M931 1420l14-14M956 1420l14-14M981 1420l14-14M1006 1420l14-14M1031 1420l14-14M1056 1420l14-14M1141 1420l14-14M1166 1420l14-14M1191 1420l14-14M1216 1420l14-14M1241 1420l14-14M1266 1420l14-14M1291 1420l14-14M1316 1420l14-14M481 1465l14-14M506 1465l14-14M531 1465l14-14M556 1465l14-14M581 1465l14-14M606 1465l14-14M631 1465l14-14M656 1465l14-14M681 1465l14-14M706 1465l14-14M731 1465l14-14M756 1465l14-14M781 1465l14-14M806 1465l14-14M831 1465l14-14M856 1465l14-14M881 1465l14-14M906 1465l14-14M931 1465l14-14M956 1465l14-14M981 1465l14-14M1006 1465l14-14M1031 1465l14-14M1056 1465l14-14M1141 1465l14-14M1166 1465l14-14M1191 1465l14-14M1216 1465l14-14M1241 1465l14-14M1266 1465l14-14M1291 1465l14-14M1316 1465l14-14M481 1510l14-14M506 1510l14-14M531 1510l14-14M556 1510l14-14M581 1510l14-14M606 1510l14-14M631 1510l14-14M656 1510l14-14M681 1510l14-14M706 1510l14-14M731 1510l14-14M756 1510l14-14M781 1510l14-14M806 1510l14-14M831 1510l14-14M856 1510l14-14M881 1510l14-14M906 1510l14-14M931 1510l14-14M956 1510l14-14M981 1510l14-14M1006 1510l14-14M1031 1510l14-14M1056 1510l14-14M1141 1510l14-14M1166 1510l14-14M1191 1510l14-14M1216 1510l14-14M1241 1510l14-14M1266 1510l14-14M1291 1510l14-14M1316 1510l14-14M481 1555l14-14M506 1555l14-14M531 1555l14-14M556 1555l14-14M581 1555l14-14M606 1555l14-14M631 1555l14-14M656 1555l14-14M681 1555l14-14M706 1555l14-14M731 1555l14-14M756 1555l14-14M781 1555l14-14M806 1555l14-14M831 1555l14-14M856 1555l14-14M881 1555l14-14M906 1555l14-14M931 1555l14-14M956 1555l14-14M981 1555l14-14M1006 1555l14-14M1031 1555l14-14M1056 1555l14-14M1141 1555l14-14M1166 1555l14-14M1191 1555l14-14M1216 1555l14-14M1241 1555l14-14M1266 1555l14-14M1291 1555l14-14M1316 1555l14-14M481 1600l14-14M506 1600l14-14M531 1600l14-14M556 1600l14-14M581 1600l14-14M606 1600l14-14M631 1600l14-14M656 1600l14-14M681 1600l14-14M706 1600l14-14M731 1600l14-14M756 1600l14-14M781 1600l14-14M806 1600l14-14M831 1600l14-14M856 1600l14-14M881 1600l14-14M906 1600l14-14M931 1600l14-14M956 1600l14-14M981 1600l14-14M1006 1600l14-14M1031 1600l14-14M1056 1600l14-14M1141 1600l14-14M1166 1600l14-14M1191 1600l14-14M1216 1600l14-14M1241 1600l14-14M1266 1600l14-14M1291 1600l14-14M1316 1600l14-14M481 1645l14-14M506 1645l14-14M531 1645l14-14M556 1645l14-14M581 1645l14-14M606 1645l14-14M631 1645l14-14M656 1645l14-14M681 1645l14-14M706 1645l14-14M731 1645l14-14M756 1645l14-14M781 1645l14-14M806 1645l14-14M831 1645l14-14M856 1645l14-14M881 1645l14-14M906 1645l14-14M931 1645l14-14M956 1645l14-14M981 1645l14-14M1006 1645l14-14M1031 1645l14-14M1056 1645l14-14M1141 1645l14-14M1166 1645l14-14M1191 1645l14-14M1216 1645l14-14M1241 1645l14-14M1266 1645l14-14M1291 1645l14-14M1316 1645l14-14M481 1690l14-14M506 1690l14-14M531 1690l14-14M556 1690l14-14M581 1690l14-14M606 1690l14-14M631 1690l14-14M656 1690l14-14M681 1690l14-14M706 1690l14-14M731 1690l14-14M756 1690l14-14M781 1690l14-14M806 1690l14-14M831 1690l14-14M856 1690l14-14M881 1690l14-14M906 1690l14-14M931 1690l14-14M956 1690l14-14M981 1690l14-14M1006 1690l14-14M1031 1690l14-14M1056 1690l14-14M1141 1690l14-14M1166 1690l14-14M1191 1690l14-14M1216 1690l14-14M1241 1690l14-14M1266 1690l14-14M1291 1690l14-14M1316 1690l14-14M481 1735l14-14M506 1735l14-14M531 1735l14-14M556 1735l14-14M581 1735l14-14M606 1735l14-14M631 1735l14-14M656 1735l14-14M681 1735l14-14M706 1735l14-14M731 1735l14-14M756 1735l14-14M781 1735l14-14M806 1735l14-14M831 1735l14-14M856 1735l14-14M881 1735l14-14M906 1735l14-14M931 1735l14-14M956 1735l14-14M981 1735l14-14M1006 1735l14-14M1031 1735l14-14M1056 1735l14-14M1141 1735l14-14M1166 1735l14-14M1191 1735l14-14M1216 1735l14-14M1241 1735l14-14M1266 1735l14-14M1291 1735l14-14M1316 1735l14-14M481 1780l14-14M506 1780l14-14M531 1780l14-14M556 1780l14-14M581 1780l14-14M606 1780l14-14M631 1780l14-14M656 1780l14-14M681 1780l14-14M706 1780l14-14M731 1780l14-14M756 1780l14-14M781 1780l14-14M806 1780l14-14M831 1780l14-14M856 1780l14-14M1141 1780l14-14M1166 1780l14-14M1191 1780l14-14M1216 1780l14-14M1241 1780l14-14M1266 1780l14-14M1291 1780l14-14M1316 1780l14-14M1407 392l14-14M1432 392l14-14M1457 392l14-14M1482 392l14-14M1507 392l14-14M1532 392l14-14M1557 392l14-14M1582 392l14-14M1607 392l14-14M1632 392l14-14M1407 417l14-14M1432 417l14-14M1457 417l14-14M1482 417l14-14M1507 417l14-14M1532 417l14-14M1557 417l14-14M1582 417l14-14M1607 417l14-14M1632 417l14-14M1407 442l14-14M1432 442l14-14M1457 442l14-14M1482 442l14-14M1507 442l14-14M1532 442l14-14M1557 442l14-14M1582 442l14-14M1607 442l14-14M1632 442l14-14M1407 467l14-14M1432 467l14-14M1457 467l14-14M1482 467l14-14M1507 467l14-14M1532 467l14-14M1557 467l14-14M1582 467l14-14M1607 467l14-14M1632 467l14-14M1407 492l14-14M1432 492l14-14M1457 492l14-14M1482 492l14-14M1507 492l14-14M1532 492l14-14M1557 492l14-14M1582 492l14-14M1607 492l14-14M1632 492l14-14M1407 517l14-14M1432 517l14-14M1457 517l14-14M1482 517l14-14M1507 517l14-14M1532 517l14-14M1557 517l14-14M1582 517l14-14M1607 517l14-14M1632 517l14-14M1407 542l14-14M1432 542l14-14M1457 542l14-14M1482 542l14-14M1507 542l14-14M1532 542l14-14M1557 542l14-14M1582 542l14-14M1607 542l14-14M1632 542l14-14M1407 567l14-14M1432 567l14-14M1457 567l14-14M1482 567l14-14M1507 567l14-14M1532 567l14-14M1557 567l14-14M1582 567l14-14M1607 567l14-14M1632 567l14-14M1407 592l14-14M1432 592l14-14M1457 592l14-14M1482 592l14-14M1507 592l14-14M1532 592l14-14M1557 592l14-14M1582 592l14-14M1607 592l14-14M1632 592l14-14M1407 617l14-14M1432 617l14-14M1457 617l14-14M1482 617l14-14M1507 617l14-14M1532 617l14-14M1557 617l14-14M1582 617l14-14M1607 617l14-14M1632 617l14-14M1407 642l14-14M1432 642l14-14M1457 642l14-14M1482 642l14-14M1507 642l14-14M1532 642l14-14M1557 642l14-14M1582 642l14-14M1607 642l14-14M1632 642l14-14M1407 667l14-14M1432 667l14-14M1457 667l14-14M1482 667l14-14M1507 667l14-14M1532 667l14-14M1557 667l14-14M1582 667l14-14M1607 667l14-14M1632 667l14-14M1407 722l14-14M1432 722l14-14M1457 722l14-14M1482 722l14-14M1507 722l14-14M1532 722l14-14M1557 722l14-14M1582 722l14-14M1607 722l14-14M1632 722l14-14M1407 747l14-14M1432 747l14-14M1457 747l14-14M1482 747l14-14M1507 747l14-14M1532 747l14-14M1557 747l14-14M1582 747l14-14M1607 747l14-14M1632 747l14-14M1407 772l14-14M1432 772l14-14M1457 772l14-14M1482 772l14-14M1507 772l14-14M1532 772l14-14M1557 772l14-14M1582 772l14-14M1607 772l14-14M1632 772l14-14M1407 797l14-14M1432 797l14-14M1457 797l14-14M1482 797l14-14M1507 797l14-14M1532 797l14-14M1557 797l14-14M1582 797l14-14M1607 797l14-14M1632 797l14-14M1407 822l14-14M1432 822l14-14M1457 822l14-14M1482 822l14-14M1507 822l14-14M1532 822l14-14M1557 822l14-14M1582 822l14-14M1607 822l14-14M1632 822l14-14M1407 847l14-14M1432 847l14-14M1457 847l14-14M1482 847l14-14M1507 847l14-14M1532 847l14-14M1557 847l14-14M1582 847l14-14M1607 847l14-14M1632 847l14-14M1408 925l14-14M1433 925l14-14M1458 925l14-14M1483 925l14-14M1508 925l14-14M1533 925l14-14M1558 925l14-14M1583 925l14-14M1608 925l14-14M1633 925l14-14M1408 950l14-14M1433 950l14-14M1458 950l14-14M1483 950l14-14M1508 950l14-14M1533 950l14-14M1558 950l14-14M1583 950l14-14M1608 950l14-14M1633 950l14-14M1408 975l14-14M1433 975l14-14M1458 975l14-14M1483 975l14-14M1508 975l14-14M1533 975l14-14M1558 975l14-14M1583 975l14-14M1608 975l14-14M1633 975l14-14M1408 1000l14-14M1433 1000l14-14M1458 1000l14-14M1483 1000l14-14M1508 1000l14-14M1533 1000l14-14M1558 1000l14-14M1583 1000l14-14M1608 1000l14-14M1633 1000l14-14M1408 1025l14-14M1433 1025l14-14M1458 1025l14-14M1483 1025l14-14M1508 1025l14-14M1533 1025l14-14M1558 1025l14-14M1583 1025l14-14M1608 1025l14-14M1633 1025l14-14M1408 1050l14-14M1433 1050l14-14M1458 1050l14-14M1483 1050l14-14M1508 1050l14-14M1533 1050l14-14M1558 1050l14-14M1583 1050l14-14M1608 1050l14-14M1633 1050l14-14M1408 1075l14-14M1433 1075l14-14M1458 1075l14-14M1483 1075l14-14M1508 1075l14-14M1533 1075l14-14M1558 1075l14-14M1583 1075l14-14M1608 1075l14-14M1633 1075l14-14M1408 1100l14-14M1433 1100l14-14M1458 1100l14-14M1483 1100l14-14M1508 1100l14-14M1533 1100l14-14M1558 1100l14-14M1583 1100l14-14M1608 1100l14-14M1633 1100l14-14M1408 1125l14-14M1433 1125l14-14M1458 1125l14-14M1483 1125l14-14M1508 1125l14-14M1533 1125l14-14M1558 1125l14-14M1583 1125l14-14M1608 1125l14-14M1633 1125l14-14M1408 1150l14-14M1433 1150l14-14M1458 1150l14-14M1483 1150l14-14M1508 1150l14-14M1533 1150l14-14M1558 1150l14-14M1583 1150l14-14M1608 1150l14-14M1633 1150l14-14M1408 1175l14-14M1433 1175l14-14M1458 1175l14-14M1483 1175l14-14M1508 1175l14-14M1533 1175l14-14M1558 1175l14-14M1583 1175l14-14M1608 1175l14-14M1633 1175l14-14M1408 1200l14-14M1433 1200l14-14M1458 1200l14-14M1483 1200l14-14M1508 1200l14-14M1533 1200l14-14M1558 1200l14-14M1583 1200l14-14M1608 1200l14-14M1633 1200l14-14M1408 1255l14-14M1433 1255l14-14M1458 1255l14-14M1483 1255l14-14M1508 1255l14-14M1533 1255l14-14M1558 1255l14-14M1583 1255l14-14M1608 1255l14-14M1633 1255l14-14M1408 1280l14-14M1433 1280l14-14M1458 1280l14-14M1483 1280l14-14M1508 1280l14-14M1533 1280l14-14M1558 1280l14-14M1583 1280l14-14M1608 1280l14-14M1633 1280l14-14M1408 1305l14-14M1433 1305l14-14M1458 1305l14-14M1483 1305l14-14M1508 1305l14-14M1533 1305l14-14M1558 1305l14-14M1583 1305l14-14M1608 1305l14-14M1633 1305l14-14M1408 1330l14-14M1433 1330l14-14M1458 1330l14-14M1483 1330l14-14M1508 1330l14-14M1533 1330l14-14M1558 1330l14-14M1583 1330l14-14M1608 1330l14-14M1633 1330l14-14M1408 1355l14-14M1433 1355l14-14M1458 1355l14-14M1483 1355l14-14M1508 1355l14-14M1533 1355l14-14M1558 1355l14-14M1583 1355l14-14M1608 1355l14-14M1633 1355l14-14M1408 1380l14-14M1433 1380l14-14M1458 1380l14-14M1483 1380l14-14M1508 1380l14-14M1533 1380l14-14M1558 1380l14-14M1583 1380l14-14M1608 1380l14-14M1633 1380l14-14"/>
<g id="rowlabels" filter="url(#th)">
<text class="r" x="449.48" y="265.20">1</text>
<text class="r" x="1351.38" y="265.20">1</text>
<text class="r" x="449.93" y="310.20">2</text>
<text class="r" x="1351.83" y="310.20">2</text>
<text class="r" x="450.13" y="355.20">3</text>
<text class="r" x="1352.03" y="355.20">3</text>
<text class="r" x="450.26" y="400.20">4</text>
<text class="r" x="1352.16" y="400.20">4</text>
<text class="r" x="450.01" y="445.20">5</text>
<text class="r" x="1351.91" y="445.20">5</text>
<text class="r" x="449.89" y="490.20">6</text>
<text class="r" x="1351.79" y="490.20">6</text>
<text class="r" x="449.81" y="535.20">7</text>
<text class="r" x="1351.71" y="535.20">7</text>
<text class="r" x="449.97" y="580.20">8</text>
<text class="r" x="1351.87" y="580.20">8</text>
<text class="r" x="449.93" y="625.20">9</text>
<text class="r" x="1351.83" y="625.20">9</text>
<text class="r" x="449.48" y="670.20">10</text>
<text class="r" x="1359.73" y="670.20">10</text>
<text class="r" x="449.48" y="715.20">11</text>
<text class="r" x="1359.73" y="715.20">11</text>
<text class="r" x="449.48" y="760.20">12</text>
<text class="r" x="1359.73" y="760.20">12</text>
<text class="r" x="449.48" y="805.20">13</text>
<text class="r" x="1359.73" y="805.20">13</text>
<text class="r" x="449.48" y="850.20">14</text>
<text class="r" x="1359.73" y="850.20">14</text>
<text class="r" x="449.48" y="925.20">15</text>
<text class="r" x="1359.73" y="925.20">15</text>
<text class="r" x="449.48" y="970.20">16</text>
<text class="r" x="1359.73" y="970.20">16</text>
<text class="r" x="449.48" y="1015.20">17</text>
<text class="r" x="1359.73" y="1015.20">17</text>
<text class="r" x="449.48" y="1060.20">18</text>
<text class="r" x="1359.73" y="1060.20">18</text>
<text class="r" x="449.48" y="1105.20">19</text>
<text class="r" x="1359.73" y="1105.20">19</text>
<text class="r" x="449.93" y="1150.20">20</text>
<text class="r" x="1360.18" y="1150.20">20</text>
<text class="r" x="449.93" y="1195.20">21</text>
<text class="r" x="1360.18" y="1195.20">21</text>
<text class="r" x="449.93" y="1240.20">22</text>
<text class="r" x="1360.18" y="1240.20">22</text>
<text class="r" x="449.93" y="1285.20">23</text>
<text class="r" x="1360.18" y="1285.20">23</text>
<text class="r" x="449.93" y="1330.20">24</text>
<text class="r" x="1360.18" y="1330.20">24</text>
<text class="r" x="449.93" y="1375.20">25</text>
<text class="r" x="1360.18" y="1375.20">25</text>
<text class="r" x="449.93" y="1420.20">26</text>
<text class="r" x="1360.18" y="1420.20">26</text>
<text class="r" x="449.93" y="1465.20">27</text>
<text class="r" x="1360.18" y="1465.20">27</text>
<text class="r" x="449.93" y="1510.20">28</text>
<text class="r" x="1360.18" y="1510.20">28</text>
<text class="r" x="449.93" y="1555.20">29</text>
<text class="r" x="1360.18" y="1555.20">29</text>
<text class="r" x="450.13" y="1600.20">30</text>
<text class="r" x="1360.38" y="1600.20">30</text>
<text class="r" x="450.13" y="1645.20">31</text>
<text class="r" x="1360.38" y="1645.20">31</text>
<text class="r" x="450.13" y="1690.20">32</text>
<text class="r" x="1360.38" y="1690.20">32</text>
<text class="r" x="450.13" y="1735.20">33</text>
<text class="r" x="1360.38" y="1735.20">33</text>
<text class="r" x="450.13" y="1780.20">34</text>
<text class="r" x="1360.38" y="1780.20">34</text>
</g>
<g id="crowlabels" filter="url(#hb)">
<text class="r c" x="1670.81" y="392.10">1</text>
<text class="r c" x="1671.29" y="417.10">2</text>
<text class="r c" x="1671.51" y="442.10">3</text>
<text class="r c" x="1671.64" y="467.10">4</text>
<text class="r c" x="1671.38" y="492.10">5</text>
<text class="r c" x="1671.25" y="517.10">6</text>
<text class="r c" x="1671.16" y="542.10">7</text>
<text class="r c" x="1671.33" y="567.10">8</text>
<text class="r c" x="1671.29" y="592.10">9</text>
<text class="r c" x="1670.81" y="617.10">10</text>
<text class="r c" x="1670.81" y="642.10">11</text>
<text class="r c" x="1670.81" y="667.10">12</text>
<text class="r c" x="1670.81" y="722.10">13</text>
<text class="r c" x="1670.81" y="747.10">14</text>
<text class="r c" x="1670.81" y="772.10">15</text>
<text class="r c" x="1670.81" y="797.10">16</text>
<text class="r c" x="1670.81" y="822.10">17</text>
<text class="r c" x="1670.81" y="847.10">18</text>
<text class="r c" x="1671.81" y="925.10">19</text>
<text class="r c" x="1672.29" y="950.10">20</text>
<text class="r c" x="1672.29" y="975.10">21</text>
<text class="r c" x="1672.29" y="1000.10">22</text>
<text class="r c" x="1672.29" y="1025.10">23</text>
<text class="r c" x="1672.29" y="1050.10">24</text>
<text class="r c" x="1672.29" y="1075.10">25</text>
<text class="r c" x="1672.29" y="1100.10">26</text>
<text class="r c" x="1672.29" y="1125.10">27</text>
<text class="r c" x="1672.29" y="1150.10">28</text>
<text class="r c" x="1672.29" y="1175.10">29</text>
<text class="r c" x="1672.51" y="1200.10">30</text>
<text class="r c" x="1672.51" y="1255.10">31</text>
<text class="r c" x="1672.51" y="1280.10">32</text>
<text class="r c" x="1672.51" y="1305.10">33</text>
<text class="r c" x="1672.51" y="1330.10">34</text>
<text class="r c" x="1672.51" y="1355.10">35</text>
<text class="r c" x="1672.51" y="1380.10">36</text>
</g>
</svg></body></html>
